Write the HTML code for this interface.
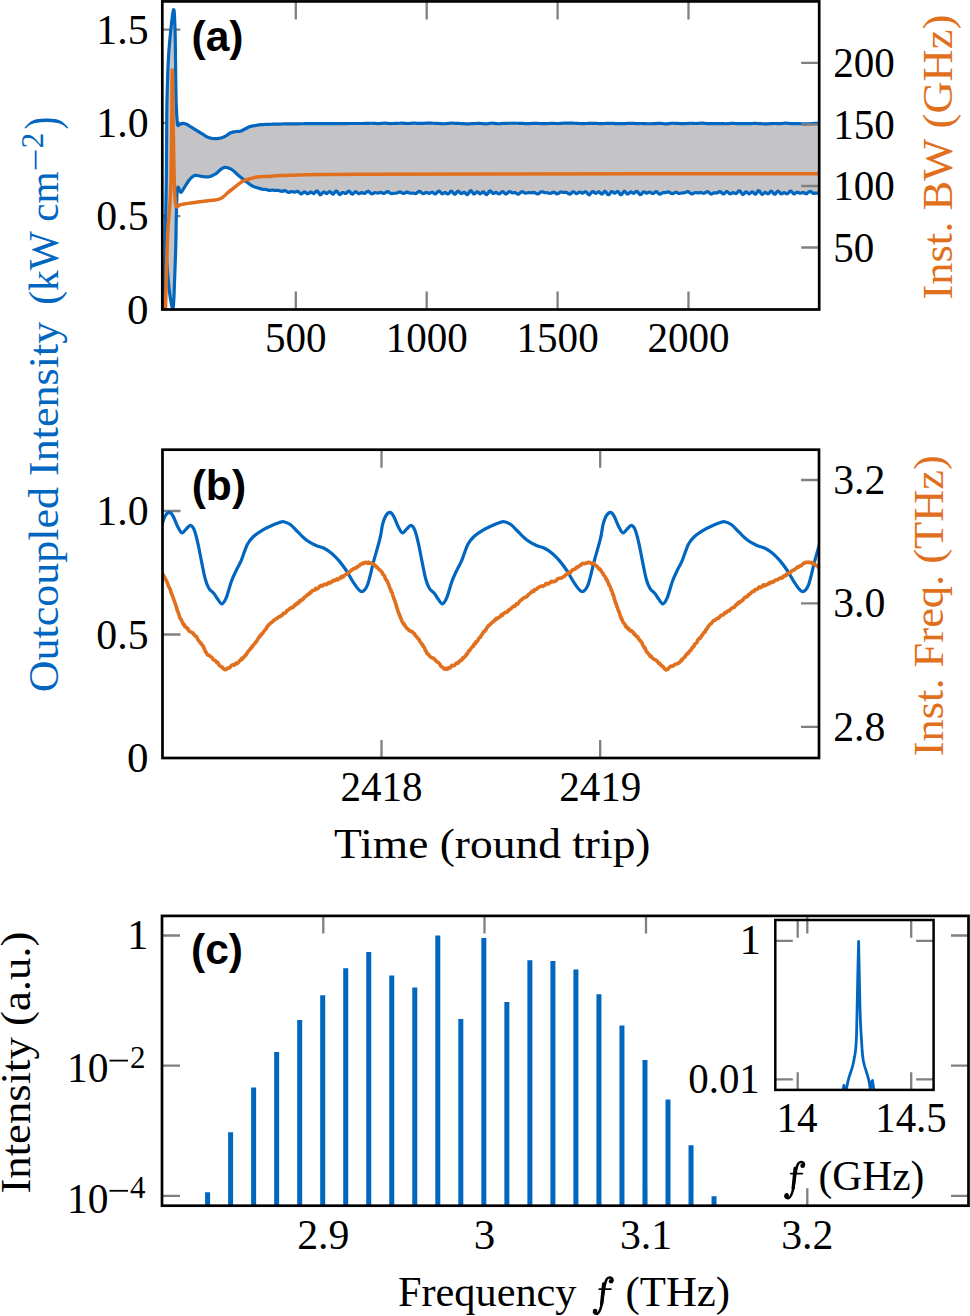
<!DOCTYPE html>
<html><head><meta charset="utf-8"><title>figure</title>
<style>html,body{margin:0;padding:0;background:#fff;width:970px;height:1316px;overflow:hidden;}svg{display:block;font-family:"Liberation Serif",serif;}</style>
</head><body>
<svg width="970" height="1316" viewBox="0 0 970 1316">
<defs>
<clipPath id="ca"><rect x="162.3" y="1.4" width="656.9" height="308.1"/></clipPath>
<clipPath id="cb"><rect x="162.5" y="449.7" width="656.5" height="308.3"/></clipPath>
</defs>
<rect width="970" height="1316" fill="#fff"/>
<path d="M295.8,309.5 V291.5 M295.8,1.4 V19.4 M426.7,309.5 V291.5 M426.7,1.4 V19.4 M557.6,309.5 V291.5 M557.6,1.4 V19.4 M688.5,309.5 V291.5 M688.5,1.4 V19.4 M162.3,216.2 H180.3 M162.3,122.9 H180.3 M162.3,29.6 H180.3" stroke="#808080" stroke-width="2.3" fill="none"/>
<g clip-path="url(#ca)">
<path d="M164.2,309 L164.21,308.48 L164.22,307.91 L164.23,307.31 L164.24,306.66 L164.25,305.97 L164.26,305.25 L164.27,304.49 L164.29,303.7 L164.3,302.87 L164.31,302.02 L164.33,301.13 L164.34,300.22 L164.36,299.28 L164.38,298.31 L164.39,297.32 L164.41,296.31 L164.43,295.27 L164.44,294.22 L164.46,293.15 L164.48,292.06 L164.5,290.96 L164.52,289.84 L164.53,288.71 L164.55,287.57 L164.57,286.43 L164.59,285.27 L164.61,284.11 L164.63,282.94 L164.65,281.77 L164.67,280.6 L164.69,279.43 L164.71,278.26 L164.72,277.09 L164.74,275.93 L164.76,274.77 L164.78,273.62 L164.8,272.48 L164.82,271.35 L164.84,270.23 L164.85,269.12 L164.87,268.03 L164.89,266.96 L164.91,265.9 L164.92,264.86 L164.94,263.84 L164.96,262.84 L164.97,261.87 L164.99,260.92 L165,260 L165.02,258.89 L165.03,257.8 L165.05,256.71 L165.07,255.64 L165.08,254.57 L165.1,253.51 L165.12,252.46 L165.13,251.42 L165.15,250.39 L165.16,249.37 L165.18,248.35 L165.19,247.34 L165.21,246.33 L165.22,245.33 L165.24,244.34 L165.25,243.35 L165.26,242.37 L165.28,241.39 L165.29,240.41 L165.31,239.44 L165.32,238.47 L165.33,237.5 L165.35,236.53 L165.36,235.57 L165.38,234.6 L165.39,233.64 L165.4,232.68 L165.42,231.72 L165.43,230.75 L165.45,229.79 L165.46,228.82 L165.48,227.86 L165.49,226.89 L165.51,225.91 L165.52,224.94 L165.54,223.96 L165.55,222.98 L165.57,221.99 L165.58,221 L165.6,220 L165.62,219 L165.63,218 L165.65,217 L165.67,216 L165.69,215 L165.7,214 L165.72,213 L165.74,212 L165.76,211 L165.78,210 L165.8,209 L165.82,208 L165.83,207 L165.85,206 L165.87,205 L165.89,204 L165.91,203 L165.93,202 L165.95,201 L165.97,200 L165.99,199 L166.01,198 L166.03,197 L166.04,196 L166.06,195 L166.08,194 L166.1,193 L166.12,192 L166.13,191 L166.15,190 L166.17,189 L166.18,188 L166.2,187 L166.22,186 L166.23,185 L166.25,184 L166.26,183 L166.27,182 L166.29,181 L166.3,180 L166.31,179 L166.32,178 L166.34,177 L166.35,176 L166.36,175 L166.37,174 L166.38,173 L166.38,172 L166.39,171 L166.4,170 L166.41,169 L166.42,168 L166.42,167 L166.43,166 L166.44,165 L166.44,164 L166.45,163 L166.46,162 L166.46,161 L166.47,160 L166.47,159 L166.48,158 L166.49,157 L166.49,156 L166.5,155 L166.5,154 L166.51,153 L166.52,152 L166.52,151 L166.53,150 L166.53,149 L166.54,148 L166.55,147 L166.55,146 L166.56,145 L166.57,144 L166.58,143 L166.58,142 L166.59,141 L166.6,140 L166.61,139 L166.62,138 L166.62,137 L166.63,136 L166.64,135 L166.65,134.01 L166.65,133.01 L166.66,132.01 L166.66,131.01 L166.67,130.02 L166.68,129.02 L166.68,128.02 L166.69,127.02 L166.69,126.03 L166.7,125.03 L166.7,124.03 L166.71,123.04 L166.72,122.04 L166.72,121.04 L166.73,120.04 L166.74,119.05 L166.75,118.05 L166.75,117.05 L166.76,116.05 L166.77,115.05 L166.78,114.05 L166.79,113.05 L166.8,112.05 L166.81,111.05 L166.83,110.05 L166.84,109.05 L166.85,108.04 L166.87,107.04 L166.88,106.04 L166.9,105.03 L166.92,104.03 L166.94,103.02 L166.96,102.02 L166.98,101.01 L167,100 L167.02,98.99 L167.05,97.97 L167.07,96.94 L167.09,95.91 L167.12,94.87 L167.15,93.83 L167.17,92.79 L167.2,91.74 L167.23,90.68 L167.25,89.63 L167.28,88.57 L167.31,87.51 L167.34,86.45 L167.37,85.38 L167.4,84.32 L167.44,83.26 L167.47,82.2 L167.5,81.14 L167.53,80.09 L167.57,79.03 L167.6,77.98 L167.64,76.93 L167.68,75.89 L167.71,74.85 L167.75,73.82 L167.79,72.79 L167.83,71.77 L167.87,70.75 L167.91,69.75 L167.95,68.75 L167.99,67.75 L168.03,66.77 L168.08,65.8 L168.12,64.84 L168.17,63.89 L168.21,62.94 L168.26,62.01 L168.3,61.1 L168.35,60.19 L168.4,59.3 L168.47,58.13 L168.53,56.96 L168.6,55.81 L168.68,54.67 L168.75,53.55 L168.82,52.43 L168.9,51.33 L168.98,50.24 L169.06,49.16 L169.14,48.09 L169.22,47.04 L169.31,45.99 L169.39,44.96 L169.48,43.94 L169.56,42.93 L169.65,41.93 L169.74,40.95 L169.83,39.98 L169.91,39.01 L170,38.06 L170.09,37.12 L170.18,36.2 L170.27,35.28 L170.36,34.38 L170.45,33.49 L170.54,32.61 L170.63,31.74 L170.72,30.88 L170.81,30.03 L170.9,29.2 L171.04,27.87 L171.19,26.5 L171.34,25.11 L171.5,23.7 L171.65,22.29 L171.81,20.9 L171.97,19.53 L172.13,18.19 L172.3,16.91 L172.45,15.69 L172.61,14.55 L172.77,13.49 L172.92,12.53 L173.06,11.69 L173.2,10.97 L173.34,10.39 L173.47,9.96 L173.59,9.69 L173.7,9.6 L173.8,9.69 L173.9,9.96 L174,10.39 L174.09,10.97 L174.17,11.69 L174.25,12.53 L174.32,13.49 L174.39,14.55 L174.46,15.69 L174.53,16.91 L174.59,18.19 L174.64,19.53 L174.7,20.9 L174.75,22.29 L174.81,23.7 L174.86,25.11 L174.9,26.5 L174.95,27.87 L175,29.2 L175.03,30.03 L175.06,30.88 L175.08,31.74 L175.11,32.61 L175.13,33.49 L175.15,34.38 L175.17,35.28 L175.19,36.2 L175.21,37.12 L175.22,38.06 L175.24,39.01 L175.25,39.98 L175.27,40.95 L175.28,41.93 L175.29,42.93 L175.31,43.94 L175.32,44.96 L175.33,45.99 L175.34,47.04 L175.36,48.09 L175.37,49.16 L175.38,50.24 L175.39,51.33 L175.41,52.43 L175.42,53.55 L175.43,54.67 L175.45,55.81 L175.47,56.96 L175.48,58.13 L175.5,59.3 L175.51,60.2 L175.53,61.12 L175.54,62.06 L175.55,63.02 L175.57,64.01 L175.58,65.01 L175.59,66.03 L175.61,67.06 L175.62,68.11 L175.63,69.17 L175.64,70.24 L175.66,71.32 L175.67,72.41 L175.68,73.51 L175.7,74.61 L175.71,75.71 L175.72,76.82 L175.74,77.93 L175.75,79.05 L175.76,80.16 L175.78,81.26 L175.79,82.37 L175.8,83.47 L175.82,84.56 L175.83,85.64 L175.85,86.72 L175.86,87.78 L175.88,88.83 L175.9,89.87 L175.91,90.89 L175.93,91.9 L175.95,92.89 L175.96,93.86 L175.98,94.81 L176,95.73 L176.02,96.64 L176.04,97.52 L176.06,98.37 L176.08,99.2 L176.1,100 L176.14,101.41 L176.18,102.77 L176.23,104.1 L176.27,105.39 L176.32,106.64 L176.37,107.85 L176.42,109.02 L176.48,110.15 L176.53,111.25 L176.58,112.3 L176.64,113.32 L176.69,114.3 L176.75,115.24 L176.8,116.14 L176.85,117.01 L176.91,117.83 L176.96,118.62 L177.01,119.37 L177.06,120.09 L177.11,120.76 L177.16,121.4 L177.2,122 L177.52,124.7 L177.8,125.35 L178,125.6 L178,125.6 L178.93,124.95 L180.2,124.2 L181.52,123.66 L183,123.4 L184.08,123.47 L185.23,123.73 L186.5,124.2 L187.26,124.59 L188.01,125.05 L188.83,125.59 L189.8,126.24 L191,127 L191.72,127.44 L192.52,127.94 L193.38,128.47 L194.29,129.03 L195.24,129.61 L196.21,130.21 L197.18,130.8 L198.15,131.39 L199.09,131.96 L200,132.5 L200.89,133.04 L201.78,133.59 L202.68,134.16 L203.57,134.72 L204.46,135.28 L205.34,135.8 L206.2,136.3 L207.05,136.76 L207.89,137.16 L208.7,137.5 L209.83,137.88 L210.93,138.16 L211.99,138.35 L213.04,138.48 L214.05,138.55 L215.04,138.59 L216,138.6 L217.1,138.56 L218.17,138.45 L219.21,138.28 L220.2,138.07 L221.13,137.84 L222,137.6 L223.13,137.23 L224.09,136.83 L225,136.35 L226,135.8 L226.87,135.25 L227.76,134.6 L228.67,133.93 L229.62,133.3 L230.6,132.8 L231.65,132.43 L232.76,132.15 L233.88,131.94 L234.98,131.76 L236,131.6 L237.14,131.49 L238.19,131.46 L239.22,131.41 L240.3,131.2 L241.21,130.88 L242.14,130.46 L243.08,129.98 L244.03,129.48 L245,129 L245.96,128.51 L246.93,128 L247.91,127.48 L248.93,127.01 L250,126.6 L250.94,126.33 L251.92,126.1 L252.92,125.9 L253.95,125.73 L254.98,125.56 L256,125.4 L256.87,125.24 L257.56,125.1 L258.26,124.96 L259.14,124.84 L260.39,124.72 L262.2,124.6 L262.89,124.56 L263.6,124.53 L264.34,124.49 L265.1,124.46 L265.9,124.42 L266.73,124.39 L267.6,124.36 L268.51,124.32 L269.45,124.29 L270.44,124.26 L271.48,124.23 L272.56,124.2 L273.7,124.17 L274.89,124.14 L276.13,124.11 L277.43,124.08 L278.79,124.05 L280.21,124.03 L281.7,124 L282.47,123.99 L283.27,123.97 L284.09,123.96 L284.93,123.95 L285.79,123.94 L286.68,123.92 L287.58,123.91 L288.5,123.9 L289.44,123.89 L290.39,123.87 L291.36,123.86 L292.35,123.85 L293.35,123.84 L294.36,123.83 L295.38,123.81 L296.41,123.8 L297.46,123.79 L298.51,123.78 L299.57,123.77 L300.64,123.76 L301.71,123.75 L302.79,123.74 L303.87,123.73 L304.96,123.72 L306.05,123.71 L307.14,123.7 L308.23,123.69 L309.32,123.68 L310.41,123.67 L311.5,123.66 L312.58,123.65 L313.66,123.64 L314.73,123.64 L315.8,123.63 L316.87,123.62 L317.92,123.61 L318.96,123.61 L320,123.6 L320.99,123.59 L322,123.59 L323.03,123.58 L324.08,123.58 L325.15,123.57 L326.23,123.57 L327.33,123.56 L328.44,123.56 L329.55,123.56 L330.68,123.55 L331.81,123.55 L332.95,123.55 L334.09,123.55 L335.23,123.54 L336.37,123.54 L337.51,123.54 L338.65,123.54 L339.78,123.54 L340.9,123.53 L342.02,123.53 L343.12,123.53 L344.22,123.53 L345.3,123.53 L346.37,123.53 L347.42,123.53 L348.45,123.52 L349.46,123.52 L350.45,123.52 L351.41,123.52 L352.35,123.52 L353.26,123.52 L354.15,123.52 L355,123.52 L355.83,123.51 L356.62,123.51 L357.37,123.51 L358.09,123.51 L358.77,123.51 L359.4,123.5 L360,123.5 L362.97,123.48 L364.52,123.46 L365.12,123.44 L365.26,123.42 L365.39,123.4 L366,123.38 L367,123.35 L368,123.32 L369,123.29 L370,123.26 L371,123.25 L372,123.26 L373,123.3 L374,123.37 L375,123.45 L376,123.53 L377,123.59 L378,123.61 L379,123.57 L380,123.5 L381,123.4 L382,123.31 L383,123.23 L384,123.2 L385,123.22 L386,123.27 L387,123.35 L388,123.42 L389,123.49 L390,123.53 L391,123.53 L392,123.52 L393,123.5 L394,123.47 L395,123.44 L396,123.41 L397,123.37 L398,123.32 L399,123.27 L400,123.23 L401,123.2 L402,123.19 L403,123.22 L404,123.28 L405,123.36 L406,123.43 L407,123.48 L408,123.51 L409,123.48 L410,123.42 L411,123.34 L412,123.26 L413,123.2 L414,123.18 L415,123.19 L416,123.24 L417,123.31 L418,123.38 L419,123.43 L420,123.45 L421,123.44 L422,123.4 L423,123.34 L424,123.28 L425,123.23 L426,123.2 L427,123.18 L428,123.18 L429,123.18 L430,123.18 L431,123.2 L432,123.21 L433,123.24 L434,123.27 L435,123.31 L436,123.36 L437,123.4 L438,123.45 L439,123.5 L440,123.57 L441,123.63 L442,123.69 L443,123.73 L444,123.73 L445,123.69 L446,123.6 L447,123.5 L448,123.39 L449,123.3 L450,123.24 L451,123.21 L452,123.21 L453,123.22 L454,123.25 L455,123.28 L456,123.31 L457,123.34 L458,123.39 L459,123.44 L460,123.49 L461,123.54 L462,123.59 L463,123.64 L464,123.69 L465,123.74 L466,123.78 L467,123.8 L468,123.81 L469,123.8 L470,123.76 L471,123.71 L472,123.65 L473,123.6 L474,123.55 L475,123.52 L476,123.48 L477,123.45 L478,123.43 L479,123.42 L480,123.43 L481,123.48 L482,123.56 L483,123.66 L484,123.76 L485,123.82 L486,123.83 L487,123.77 L488,123.65 L489,123.5 L490,123.35 L491,123.23 L492,123.18 L493,123.22 L494,123.32 L495,123.45 L496,123.59 L497,123.7 L498,123.75 L499,123.74 L500,123.68 L501,123.59 L502,123.5 L503,123.41 L504,123.35 L505,123.32 L506,123.29 L507,123.28 L508,123.27 L509,123.26 L510,123.25 L511,123.24 L512,123.23 L513,123.23 L514,123.22 L515,123.23 L516,123.23 L517,123.24 L518,123.26 L519,123.28 L520,123.3 L521,123.33 L522,123.37 L523,123.42 L524,123.5 L525,123.58 L526,123.65 L527,123.71 L528,123.72 L529,123.69 L530,123.61 L531,123.5 L532,123.4 L533,123.32 L534,123.28 L535,123.28 L536,123.33 L537,123.39 L538,123.45 L539,123.52 L540,123.56 L541,123.58 L542,123.6 L543,123.61 L544,123.61 L545,123.61 L546,123.6 L547,123.58 L548,123.54 L549,123.5 L550,123.46 L551,123.43 L552,123.41 L553,123.42 L554,123.45 L555,123.48 L556,123.52 L557,123.54 L558,123.53 L559,123.5 L560,123.44 L561,123.37 L562,123.3 L563,123.24 L564,123.19 L565,123.17 L566,123.16 L567,123.17 L568,123.17 L569,123.18 L570,123.19 L571,123.2 L572,123.21 L573,123.22 L574,123.24 L575,123.26 L576,123.29 L577,123.34 L578,123.41 L579,123.48 L580,123.54 L581,123.6 L582,123.63 L583,123.63 L584,123.6 L585,123.56 L586,123.52 L587,123.48 L588,123.45 L589,123.43 L590,123.41 L591,123.39 L592,123.37 L593,123.37 L594,123.37 L595,123.39 L596,123.42 L597,123.47 L598,123.51 L599,123.54 L600,123.56 L601,123.56 L602,123.55 L603,123.53 L604,123.51 L605,123.49 L606,123.47 L607,123.44 L608,123.42 L609,123.39 L610,123.36 L611,123.35 L612,123.36 L613,123.4 L614,123.46 L615,123.53 L616,123.6 L617,123.67 L618,123.71 L619,123.72 L620,123.72 L621,123.71 L622,123.7 L623,123.67 L624,123.64 L625,123.59 L626,123.53 L627,123.46 L628,123.4 L629,123.35 L630,123.32 L631,123.33 L632,123.37 L633,123.42 L634,123.47 L635,123.52 L636,123.55 L637,123.56 L638,123.55 L639,123.53 L640,123.52 L641,123.51 L642,123.52 L643,123.55 L644,123.59 L645,123.64 L646,123.7 L647,123.74 L648,123.76 L649,123.77 L650,123.76 L651,123.75 L652,123.72 L653,123.69 L654,123.66 L655,123.61 L656,123.54 L657,123.47 L658,123.4 L659,123.36 L660,123.35 L661,123.4 L662,123.49 L663,123.61 L664,123.73 L665,123.81 L666,123.84 L667,123.79 L668,123.69 L669,123.55 L670,123.41 L671,123.3 L672,123.23 L673,123.22 L674,123.24 L675,123.29 L676,123.34 L677,123.4 L678,123.44 L679,123.49 L680,123.54 L681,123.6 L682,123.65 L683,123.68 L684,123.68 L685,123.64 L686,123.56 L687,123.47 L688,123.37 L689,123.3 L690,123.26 L691,123.26 L692,123.31 L693,123.37 L694,123.43 L695,123.48 L696,123.49 L697,123.46 L698,123.4 L699,123.32 L700,123.25 L701,123.19 L702,123.18 L703,123.21 L704,123.28 L705,123.37 L706,123.47 L707,123.56 L708,123.62 L709,123.65 L710,123.68 L711,123.69 L712,123.69 L713,123.69 L714,123.69 L715,123.67 L716,123.64 L717,123.61 L718,123.58 L719,123.56 L720,123.55 L721,123.57 L722,123.62 L723,123.67 L724,123.72 L725,123.76 L726,123.76 L727,123.72 L728,123.65 L729,123.56 L730,123.47 L731,123.4 L732,123.37 L733,123.38 L734,123.42 L735,123.48 L736,123.55 L737,123.6 L738,123.64 L739,123.64 L740,123.64 L741,123.62 L742,123.6 L743,123.58 L744,123.57 L745,123.56 L746,123.56 L747,123.56 L748,123.56 L749,123.56 L750,123.56 L751,123.54 L752,123.52 L753,123.5 L754,123.47 L755,123.46 L756,123.47 L757,123.5 L758,123.54 L759,123.59 L760,123.65 L761,123.7 L762,123.74 L763,123.77 L764,123.79 L765,123.81 L766,123.82 L767,123.82 L768,123.81 L769,123.77 L770,123.71 L771,123.64 L772,123.57 L773,123.51 L774,123.48 L775,123.48 L776,123.51 L777,123.55 L778,123.59 L779,123.62 L780,123.61 L781,123.57 L782,123.48 L783,123.38 L784,123.29 L785,123.22 L786,123.19 L787,123.22 L788,123.3 L789,123.39 L790,123.5 L791,123.58 L792,123.64 L793,123.66 L794,123.65 L795,123.63 L796,123.61 L797,123.6 L798,123.6 L799,123.63 L800,123.68 L801,123.73 L802,123.78 L803,123.82 L804,123.85 L805,123.85 L806,123.84 L807,123.82 L808,123.8 L809,123.76 L810,123.73 L811.03,123.67 L812.1,123.6 L813.18,123.53 L814.21,123.45 L815.16,123.39 L816,123.35 L817.39,123.34 L818.47,123.37 L819.2,123.4 L819.2,192.6 L819.2,192.6 L818.1,193.28 L816.8,193.1 L815.5,193.19 L814.2,193.43 L812.9,193.13 L811.6,192.13 L810.3,191.32 L809,191.69 L807.7,192.95 L806.4,193.78 L805.1,193.44 L803.8,192.67 L802.5,192.58 L801.2,193.13 L799.9,193.27 L798.6,192.63 L797.3,192.18 L796,192.8 L794.7,193.8 L793.4,193.65 L792.1,192.16 L790.8,191 L789.5,191.59 L788.85,192.39 L788.2,193.21 L786.9,193.94 L785.6,193.26 L784.3,192.58 L783,193.09 L781.7,193.9 L780.4,193.4 L779.75,192.62 L779.1,191.82 L777.8,191.16 L776.5,192.45 L775.85,193.37 L775.2,194.11 L773.9,193.96 L773.25,193.13 L772.6,192.19 L771.3,191.14 L770,192.09 L769.35,192.91 L768.7,193.62 L767.4,193.72 L766.1,192.62 L764.8,192.36 L763.5,193.59 L762.2,194.49 L760.9,193.35 L760.25,192.24 L759.6,191.2 L758.3,190.65 L757.65,191.35 L757,192.34 L756.35,193.33 L755.7,194.08 L754.4,193.81 L753.75,193.06 L753.1,192.28 L751.8,191.83 L750.5,192.98 L749.2,193.89 L747.9,193.16 L746.6,191.93 L745.3,192.19 L744.65,192.96 L744,193.8 L742.7,194.52 L741.4,193.13 L740.75,192.08 L740.1,191.16 L738.8,190.91 L737.5,192.41 L736.2,193.64 L734.9,193.32 L733.6,192.52 L732.3,192.76 L731,193.75 L729.7,193.86 L728.4,192.62 L727.1,191.56 L725.8,192.07 L724.5,193.5 L723.2,194 L721.9,192.97 L720.6,191.74 L719.3,191.7 L718,192.56 L716.7,193.06 L715.4,192.84 L714.1,192.76 L712.8,193.4 L711.5,194.06 L710.2,193.68 L708.9,192.42 L707.6,191.56 L706.3,191.92 L705,192.88 L703.7,193.3 L702.4,192.94 L701.1,192.52 L699.8,192.59 L698.5,192.85 L697.2,192.78 L695.9,192.53 L694.6,192.72 L693.3,193.44 L692,193.96 L690.7,193.56 L689.4,192.49 L688.1,191.72 L686.8,191.82 L685.5,192.42 L684.2,192.81 L682.9,192.86 L681.6,192.98 L680.3,193.32 L679,193.42 L677.7,192.93 L676.4,192.27 L675.1,192.27 L673.8,193.05 L672.5,193.74 L671.2,193.48 L669.9,192.51 L668.6,191.88 L667.3,192.08 L666,192.54 L664.7,192.58 L663.4,192.47 L662.1,192.94 L660.8,193.87 L659.5,194.18 L658.2,193.23 L656.9,191.9 L655.6,191.68 L654.3,192.7 L653,193.56 L651.7,193.19 L650.4,192.25 L649.1,192.12 L647.8,192.87 L646.5,193.19 L645.2,192.45 L643.9,191.81 L642.6,192.61 L641.95,193.46 L641.3,194.27 L640,194.74 L638.7,193.27 L638.05,192.31 L637.4,191.52 L636.1,191.44 L634.8,192.72 L633.5,193.36 L632.2,192.58 L630.9,191.83 L629.6,192.57 L628.3,193.94 L627,193.91 L626.35,193.17 L625.7,192.3 L624.4,191.25 L623.1,192.37 L622.45,193.4 L621.8,194.34 L620.5,194.65 L619.85,193.91 L619.2,192.93 L617.9,191.42 L616.6,191.8 L615.3,193.03 L614,193.04 L612.7,191.88 L611.4,191.59 L610.75,192.25 L610.1,193.14 L609.45,194.07 L608.8,194.75 L607.5,194.28 L606.85,193.29 L606.2,192.24 L604.9,191.19 L603.6,192.33 L602.95,193.21 L602.3,193.94 L601,193.87 L599.7,192.45 L598.4,191.74 L597.1,192.55 L595.8,193.36 L594.5,192.74 L593.2,191.53 L591.9,191.71 L591.25,192.53 L590.6,193.49 L589.3,194.84 L588,194.18 L587.35,193.31 L586.7,192.42 L585.4,191.66 L584.1,192.38 L582.8,193.16 L581.5,192.84 L580.2,192.11 L578.9,192.28 L577.6,193.24 L576.3,193.59 L575,192.71 L573.7,191.73 L572.4,192.03 L571.1,193.38 L569.8,194.25 L568.5,193.79 L567.2,192.75 L565.9,192.29 L564.6,192.46 L563.3,192.48 L562,192.09 L560.7,191.97 L559.4,192.66 L558.1,193.61 L556.8,193.79 L555.5,193.03 L554.2,192.24 L552.9,192.29 L551.6,192.97 L550.3,193.43 L549,193.26 L547.7,192.87 L546.4,192.73 L545.1,192.69 L543.8,192.35 L542.5,191.85 L541.2,191.87 L539.9,192.7 L538.6,193.73 L537.3,194.02 L536,193.39 L534.7,192.63 L533.4,192.44 L532.1,192.71 L530.8,192.79 L529.5,192.56 L528.2,192.52 L526.9,192.93 L525.6,193.25 L524.3,192.82 L523,191.94 L521.7,191.7 L520.4,192.62 L519.1,193.83 L517.8,194.09 L516.5,193.34 L515.2,192.64 L513.9,192.7 L512.6,192.91 L511.3,192.45 L510,191.7 L508.7,191.85 L507.4,193.09 L506.1,194.05 L504.8,193.48 L503.5,192.06 L502.2,191.64 L500.9,192.74 L499.6,193.92 L498.3,193.73 L497,192.69 L495.7,192.43 L494.4,193.19 L493.1,193.46 L491.8,192.27 L490.5,190.92 L489.2,191.35 L488.55,192.3 L487.9,193.36 L486.6,194.65 L485.3,193.8 L484.65,192.94 L484,192.15 L482.7,191.93 L481.4,193.16 L480.1,193.84 L478.8,192.89 L477.5,191.78 L476.2,192.28 L474.9,193.76 L473.6,193.96 L472.95,193.2 L472.3,192.22 L471.65,191.29 L471,190.67 L469.7,191.4 L469.05,192.48 L468.4,193.59 L467.1,194.64 L465.8,193.6 L464.5,192.3 L463.2,192.56 L461.9,193.62 L460.6,193.48 L459.3,191.96 L458,191.12 L456.7,192.28 L456.05,193.22 L455.4,194.03 L454.1,194.09 L453.45,193.31 L452.8,192.38 L451.5,191.17 L450.2,191.96 L449.55,192.79 L448.9,193.58 L447.6,194 L446.3,193.09 L445,192.53 L443.7,193.17 L442.4,193.79 L441.1,193.02 L440.45,192.21 L439.8,191.45 L438.5,191.01 L437.2,192.31 L435.9,193.82 L434.6,193.89 L433.3,192.81 L432,192.18 L430.7,192.67 L429.4,193.32 L428.1,193.14 L426.8,192.56 L425.5,192.63 L424.2,193.38 L422.9,193.66 L421.6,192.79 L420.3,191.58 L419,191.35 L417.7,192.29 L416.4,193.34 L415.1,193.57 L413.8,193.25 L412.5,193.09 L411.2,193.23 L409.9,193.1 L408.6,192.52 L407.3,192.09 L406,192.4 L404.7,193.16 L403.4,193.47 L402.1,192.91 L400.8,192.08 L399.5,191.87 L398.2,192.39 L396.9,193.01 L395.6,193.24 L394.3,193.27 L393,193.46 L391.7,193.61 L390.4,193.2 L389.1,192.27 L387.8,191.61 L386.5,191.92 L385.2,192.88 L383.9,193.44 L382.6,193.11 L381.3,192.5 L380,192.44 L378.7,192.87 L377.4,193.05 L376.1,192.76 L374.8,192.67 L373.5,193.28 L372.2,193.94 L370.9,193.56 L369.6,192.17 L368.3,191.18 L367,191.64 L365.7,192.91 L364.4,193.49 L363.1,193.01 L361.8,192.6 L360.5,193.09 L359.2,193.73 L357.9,193.29 L356.6,192.08 L355.3,191.73 L354,192.92 L352.7,194.2 L351.4,193.79 L350.75,192.95 L350.1,192.05 L348.8,191.08 L347.5,191.94 L346.2,193.28 L344.9,193.35 L343.6,192.49 L342.3,192.49 L341,193.77 L339.7,194.56 L338.4,193.39 L337.75,192.35 L337.1,191.4 L335.8,191.02 L335.15,191.73 L334.5,192.68 L333.2,194.16 L331.9,193.59 L331.25,192.76 L330.6,191.94 L329.3,191.54 L328,192.78 L326.7,193.7 L325.4,192.97 L324.1,191.87 L322.8,192.39 L322.15,193.28 L321.5,194.19 L320.2,194.86 L319.55,194.21 L318.9,193.23 L318.25,192.11 L317.6,191.18 L316.3,191.06 L315.65,191.77 L315,192.61 L313.7,193.62 L312.4,193.02 L311.1,192.13 L309.8,192.47 L308.5,193.54 L307.2,193.7 L305.9,192.62 L304.6,191.81 L303.3,192.45 L302,193.64 L300.7,193.79 L299.4,192.62 L298.1,191.46 L296.8,191.41 L295.5,192.02 L294.2,192.2 L292.9,191.77 L291.6,191.55 L290.3,191.97 L289,192.39 L287.7,192.08 L286.4,191.21 L285.1,190.68 L283.8,190.89 L282.5,191.32 L281.2,191.3 L279.9,190.85 L278.6,190.46 L277.3,190.42 L276,190.47 L274.7,190.32 L273.4,190.11 L272.1,190.1 L270.8,190.28 L269.5,190.35 L268.2,190.1 L266.9,189.69 L265.6,189.39 L264.3,189.32 L263,189.35 L262.24,189.18 L261.29,188.94 L260.21,188.65 L259.09,188.33 L258,188 L256.92,187.66 L255.79,187.29 L254.65,186.9 L253.54,186.47 L252.5,186 L251.55,185.48 L250.67,184.93 L249.81,184.33 L248.94,183.69 L248,183 L247.16,182.36 L246.27,181.67 L245.36,180.95 L244.45,180.21 L243.56,179.49 L242.7,178.8 L241.89,178.15 L241.1,177.53 L240.33,176.92 L239.57,176.3 L238.79,175.67 L238,175 L237.17,174.27 L236.32,173.47 L235.46,172.66 L234.6,171.86 L233.78,171.13 L233,170.5 L231.94,169.74 L230.97,169.12 L230.01,168.62 L229,168.2 L227.91,167.81 L226.78,167.49 L225.64,167.33 L224.5,167.4 L223.59,167.69 L222.68,168.15 L221.76,168.72 L220.87,169.36 L220,170 L219.22,170.66 L218.52,171.39 L217.81,172.14 L217,172.89 L216,173.6 L215.13,174.11 L214.14,174.65 L213.07,175.19 L211.96,175.7 L210.84,176.16 L209.74,176.54 L208.7,176.8 L207.55,176.95 L206.42,176.96 L205.31,176.86 L204.21,176.71 L203.11,176.54 L202,176.4 L200.86,176.23 L199.68,175.98 L198.5,175.71 L197.36,175.49 L196.28,175.37 L195.3,175.4 L194.27,175.66 L193.37,176.09 L192.55,176.65 L191.77,177.3 L191,178 L190.25,178.76 L189.54,179.62 L188.86,180.54 L188.19,181.51 L187.5,182.5 L186.91,183.37 L186.32,184.3 L185.73,185.26 L185.14,186.22 L184.57,187.14 L184,188 L183.34,189.07 L182.7,190.22 L182.07,191.26 L181.44,192.01 L180.8,192.3 L180.13,191.54 L179.42,189.84 L178.74,188.1 L178.11,187.19 L177.6,188 L177.51,188.45 L177.43,188.98 L177.35,189.58 L177.28,190.26 L177.21,191 L177.15,191.8 L177.09,192.66 L177.03,193.57 L176.98,194.53 L176.93,195.54 L176.88,196.59 L176.84,197.67 L176.8,198.78 L176.76,199.93 L176.72,201.1 L176.68,202.29 L176.65,203.49 L176.61,204.7 L176.58,205.93 L176.54,207.15 L176.51,208.38 L176.47,209.59 L176.44,210.8 L176.4,212 L176.37,212.87 L176.35,213.76 L176.33,214.65 L176.3,215.57 L176.28,216.49 L176.26,217.43 L176.24,218.37 L176.23,219.33 L176.21,220.3 L176.19,221.27 L176.18,222.26 L176.16,223.25 L176.15,224.25 L176.13,225.26 L176.12,226.28 L176.11,227.3 L176.09,228.33 L176.08,229.36 L176.07,230.39 L176.05,231.43 L176.04,232.47 L176.02,233.52 L176.01,234.56 L175.99,235.61 L175.97,236.66 L175.96,237.71 L175.94,238.76 L175.92,239.8 L175.9,240.85 L175.87,241.89 L175.85,242.93 L175.83,243.97 L175.8,245 L175.77,245.99 L175.74,247 L175.71,248.05 L175.68,249.11 L175.65,250.2 L175.61,251.31 L175.58,252.43 L175.54,253.57 L175.5,254.72 L175.47,255.87 L175.43,257.04 L175.39,258.2 L175.35,259.37 L175.31,260.54 L175.26,261.7 L175.22,262.85 L175.18,263.99 L175.14,265.13 L175.1,266.24 L175.06,267.34 L175.02,268.42 L174.98,269.48 L174.95,270.51 L174.91,271.52 L174.87,272.49 L174.84,273.43 L174.8,274.34 L174.77,275.21 L174.74,276.04 L174.71,276.82 L174.69,277.56 L174.66,278.25 L174.64,278.89 L174.62,279.47 L174.6,280 L174.6,280 L174.57,280.56 L174.54,281.24 L174.51,282.03 L174.47,282.92 L174.44,283.89 L174.4,284.94 L174.36,286.06 L174.31,287.24 L174.27,288.47 L174.22,289.74 L174.18,291.03 L174.13,292.35 L174.07,293.68 L174.02,295 L173.96,296.31 L173.9,297.61 L173.84,298.87 L173.78,300.1 L173.71,301.27 L173.64,302.39 L173.57,303.44 L173.5,304.41 L173.42,305.28 L173.34,306.06 L173.26,306.74 L173.18,307.29 L173.09,307.71 L173,308 L172.83,308.23 L172.65,308.2 L172.45,307.92 L172.24,307.42 L172.02,306.72 L171.79,305.84 L171.56,304.8 L171.32,303.62 L171.08,302.34 L170.84,300.96 L170.6,299.51 L170.36,298.02 L170.13,296.49 L169.91,294.97 L169.7,293.47 L169.5,292 L169.4,291.21 L169.29,290.39 L169.19,289.53 L169.09,288.64 L168.99,287.72 L168.89,286.77 L168.79,285.79 L168.69,284.8 L168.59,283.78 L168.5,282.74 L168.4,281.69 L168.3,280.62 L168.21,279.55 L168.12,278.46 L168.03,277.38 L167.93,276.28 L167.84,275.19 L167.76,274.1 L167.67,273.01 L167.58,271.93 L167.5,270.85 L167.41,269.79 L167.33,268.74 L167.25,267.71 L167.17,266.7 L167.09,265.71 L167.02,264.74 L166.94,263.8 L166.87,262.88 L166.8,262 L166.71,260.81 L166.61,259.62 L166.52,258.42 L166.43,257.22 L166.35,256.02 L166.26,254.83 L166.18,253.65 L166.1,252.49 L166.03,251.34 L165.95,250.22 L165.88,249.12 L165.81,248.06 L165.75,247.03 L165.68,246.04 L165.62,245.1 L165.57,244.2 L165.52,243.35 L165.47,242.55 L165.42,241.82 L165.38,241.14 L165.34,240.54 L165.3,240 Z" fill="#c4c4c6" stroke="none"/>
<path d="M164.2,309 L164.21,308.48 L164.22,307.91 L164.23,307.31 L164.24,306.66 L164.25,305.97 L164.26,305.25 L164.27,304.49 L164.29,303.7 L164.3,302.87 L164.31,302.02 L164.33,301.13 L164.34,300.22 L164.36,299.28 L164.38,298.31 L164.39,297.32 L164.41,296.31 L164.43,295.27 L164.44,294.22 L164.46,293.15 L164.48,292.06 L164.5,290.96 L164.52,289.84 L164.53,288.71 L164.55,287.57 L164.57,286.43 L164.59,285.27 L164.61,284.11 L164.63,282.94 L164.65,281.77 L164.67,280.6 L164.69,279.43 L164.71,278.26 L164.72,277.09 L164.74,275.93 L164.76,274.77 L164.78,273.62 L164.8,272.48 L164.82,271.35 L164.84,270.23 L164.85,269.12 L164.87,268.03 L164.89,266.96 L164.91,265.9 L164.92,264.86 L164.94,263.84 L164.96,262.84 L164.97,261.87 L164.99,260.92 L165,260 L165.02,258.89 L165.03,257.8 L165.05,256.71 L165.07,255.64 L165.08,254.57 L165.1,253.51 L165.12,252.46 L165.13,251.42 L165.15,250.39 L165.16,249.37 L165.18,248.35 L165.19,247.34 L165.21,246.33 L165.22,245.33 L165.24,244.34 L165.25,243.35 L165.26,242.37 L165.28,241.39 L165.29,240.41 L165.31,239.44 L165.32,238.47 L165.33,237.5 L165.35,236.53 L165.36,235.57 L165.38,234.6 L165.39,233.64 L165.4,232.68 L165.42,231.72 L165.43,230.75 L165.45,229.79 L165.46,228.82 L165.48,227.86 L165.49,226.89 L165.51,225.91 L165.52,224.94 L165.54,223.96 L165.55,222.98 L165.57,221.99 L165.58,221 L165.6,220 L165.62,219 L165.63,218 L165.65,217 L165.67,216 L165.69,215 L165.7,214 L165.72,213 L165.74,212 L165.76,211 L165.78,210 L165.8,209 L165.82,208 L165.83,207 L165.85,206 L165.87,205 L165.89,204 L165.91,203 L165.93,202 L165.95,201 L165.97,200 L165.99,199 L166.01,198 L166.03,197 L166.04,196 L166.06,195 L166.08,194 L166.1,193 L166.12,192 L166.13,191 L166.15,190 L166.17,189 L166.18,188 L166.2,187 L166.22,186 L166.23,185 L166.25,184 L166.26,183 L166.27,182 L166.29,181 L166.3,180 L166.31,179 L166.32,178 L166.34,177 L166.35,176 L166.36,175 L166.37,174 L166.38,173 L166.38,172 L166.39,171 L166.4,170 L166.41,169 L166.42,168 L166.42,167 L166.43,166 L166.44,165 L166.44,164 L166.45,163 L166.46,162 L166.46,161 L166.47,160 L166.47,159 L166.48,158 L166.49,157 L166.49,156 L166.5,155 L166.5,154 L166.51,153 L166.52,152 L166.52,151 L166.53,150 L166.53,149 L166.54,148 L166.55,147 L166.55,146 L166.56,145 L166.57,144 L166.58,143 L166.58,142 L166.59,141 L166.6,140 L166.61,139 L166.62,138 L166.62,137 L166.63,136 L166.64,135 L166.65,134.01 L166.65,133.01 L166.66,132.01 L166.66,131.01 L166.67,130.02 L166.68,129.02 L166.68,128.02 L166.69,127.02 L166.69,126.03 L166.7,125.03 L166.7,124.03 L166.71,123.04 L166.72,122.04 L166.72,121.04 L166.73,120.04 L166.74,119.05 L166.75,118.05 L166.75,117.05 L166.76,116.05 L166.77,115.05 L166.78,114.05 L166.79,113.05 L166.8,112.05 L166.81,111.05 L166.83,110.05 L166.84,109.05 L166.85,108.04 L166.87,107.04 L166.88,106.04 L166.9,105.03 L166.92,104.03 L166.94,103.02 L166.96,102.02 L166.98,101.01 L167,100 L167.02,98.99 L167.05,97.97 L167.07,96.94 L167.09,95.91 L167.12,94.87 L167.15,93.83 L167.17,92.79 L167.2,91.74 L167.23,90.68 L167.25,89.63 L167.28,88.57 L167.31,87.51 L167.34,86.45 L167.37,85.38 L167.4,84.32 L167.44,83.26 L167.47,82.2 L167.5,81.14 L167.53,80.09 L167.57,79.03 L167.6,77.98 L167.64,76.93 L167.68,75.89 L167.71,74.85 L167.75,73.82 L167.79,72.79 L167.83,71.77 L167.87,70.75 L167.91,69.75 L167.95,68.75 L167.99,67.75 L168.03,66.77 L168.08,65.8 L168.12,64.84 L168.17,63.89 L168.21,62.94 L168.26,62.01 L168.3,61.1 L168.35,60.19 L168.4,59.3 L168.47,58.13 L168.53,56.96 L168.6,55.81 L168.68,54.67 L168.75,53.55 L168.82,52.43 L168.9,51.33 L168.98,50.24 L169.06,49.16 L169.14,48.09 L169.22,47.04 L169.31,45.99 L169.39,44.96 L169.48,43.94 L169.56,42.93 L169.65,41.93 L169.74,40.95 L169.83,39.98 L169.91,39.01 L170,38.06 L170.09,37.12 L170.18,36.2 L170.27,35.28 L170.36,34.38 L170.45,33.49 L170.54,32.61 L170.63,31.74 L170.72,30.88 L170.81,30.03 L170.9,29.2 L171.04,27.87 L171.19,26.5 L171.34,25.11 L171.5,23.7 L171.65,22.29 L171.81,20.9 L171.97,19.53 L172.13,18.19 L172.3,16.91 L172.45,15.69 L172.61,14.55 L172.77,13.49 L172.92,12.53 L173.06,11.69 L173.2,10.97 L173.34,10.39 L173.47,9.96 L173.59,9.69 L173.7,9.6 L173.8,9.69 L173.9,9.96 L174,10.39 L174.09,10.97 L174.17,11.69 L174.25,12.53 L174.32,13.49 L174.39,14.55 L174.46,15.69 L174.53,16.91 L174.59,18.19 L174.64,19.53 L174.7,20.9 L174.75,22.29 L174.81,23.7 L174.86,25.11 L174.9,26.5 L174.95,27.87 L175,29.2 L175.03,30.03 L175.06,30.88 L175.08,31.74 L175.11,32.61 L175.13,33.49 L175.15,34.38 L175.17,35.28 L175.19,36.2 L175.21,37.12 L175.22,38.06 L175.24,39.01 L175.25,39.98 L175.27,40.95 L175.28,41.93 L175.29,42.93 L175.31,43.94 L175.32,44.96 L175.33,45.99 L175.34,47.04 L175.36,48.09 L175.37,49.16 L175.38,50.24 L175.39,51.33 L175.41,52.43 L175.42,53.55 L175.43,54.67 L175.45,55.81 L175.47,56.96 L175.48,58.13 L175.5,59.3 L175.51,60.2 L175.53,61.12 L175.54,62.06 L175.55,63.02 L175.57,64.01 L175.58,65.01 L175.59,66.03 L175.61,67.06 L175.62,68.11 L175.63,69.17 L175.64,70.24 L175.66,71.32 L175.67,72.41 L175.68,73.51 L175.7,74.61 L175.71,75.71 L175.72,76.82 L175.74,77.93 L175.75,79.05 L175.76,80.16 L175.78,81.26 L175.79,82.37 L175.8,83.47 L175.82,84.56 L175.83,85.64 L175.85,86.72 L175.86,87.78 L175.88,88.83 L175.9,89.87 L175.91,90.89 L175.93,91.9 L175.95,92.89 L175.96,93.86 L175.98,94.81 L176,95.73 L176.02,96.64 L176.04,97.52 L176.06,98.37 L176.08,99.2 L176.1,100 L176.14,101.41 L176.18,102.77 L176.23,104.1 L176.27,105.39 L176.32,106.64 L176.37,107.85 L176.42,109.02 L176.48,110.15 L176.53,111.25 L176.58,112.3 L176.64,113.32 L176.69,114.3 L176.75,115.24 L176.8,116.14 L176.85,117.01 L176.91,117.83 L176.96,118.62 L177.01,119.37 L177.06,120.09 L177.11,120.76 L177.16,121.4 L177.2,122 L177.52,124.7 L177.8,125.35 L178,125.6 L178,125.6 L178.93,124.95 L180.2,124.2 L181.52,123.66 L183,123.4 L184.08,123.47 L185.23,123.73 L186.5,124.2 L187.26,124.59 L188.01,125.05 L188.83,125.59 L189.8,126.24 L191,127 L191.72,127.44 L192.52,127.94 L193.38,128.47 L194.29,129.03 L195.24,129.61 L196.21,130.21 L197.18,130.8 L198.15,131.39 L199.09,131.96 L200,132.5 L200.89,133.04 L201.78,133.59 L202.68,134.16 L203.57,134.72 L204.46,135.28 L205.34,135.8 L206.2,136.3 L207.05,136.76 L207.89,137.16 L208.7,137.5 L209.83,137.88 L210.93,138.16 L211.99,138.35 L213.04,138.48 L214.05,138.55 L215.04,138.59 L216,138.6 L217.1,138.56 L218.17,138.45 L219.21,138.28 L220.2,138.07 L221.13,137.84 L222,137.6 L223.13,137.23 L224.09,136.83 L225,136.35 L226,135.8 L226.87,135.25 L227.76,134.6 L228.67,133.93 L229.62,133.3 L230.6,132.8 L231.65,132.43 L232.76,132.15 L233.88,131.94 L234.98,131.76 L236,131.6 L237.14,131.49 L238.19,131.46 L239.22,131.41 L240.3,131.2 L241.21,130.88 L242.14,130.46 L243.08,129.98 L244.03,129.48 L245,129 L245.96,128.51 L246.93,128 L247.91,127.48 L248.93,127.01 L250,126.6 L250.94,126.33 L251.92,126.1 L252.92,125.9 L253.95,125.73 L254.98,125.56 L256,125.4 L256.87,125.24 L257.56,125.1 L258.26,124.96 L259.14,124.84 L260.39,124.72 L262.2,124.6 L262.89,124.56 L263.6,124.53 L264.34,124.49 L265.1,124.46 L265.9,124.42 L266.73,124.39 L267.6,124.36 L268.51,124.32 L269.45,124.29 L270.44,124.26 L271.48,124.23 L272.56,124.2 L273.7,124.17 L274.89,124.14 L276.13,124.11 L277.43,124.08 L278.79,124.05 L280.21,124.03 L281.7,124 L282.47,123.99 L283.27,123.97 L284.09,123.96 L284.93,123.95 L285.79,123.94 L286.68,123.92 L287.58,123.91 L288.5,123.9 L289.44,123.89 L290.39,123.87 L291.36,123.86 L292.35,123.85 L293.35,123.84 L294.36,123.83 L295.38,123.81 L296.41,123.8 L297.46,123.79 L298.51,123.78 L299.57,123.77 L300.64,123.76 L301.71,123.75 L302.79,123.74 L303.87,123.73 L304.96,123.72 L306.05,123.71 L307.14,123.7 L308.23,123.69 L309.32,123.68 L310.41,123.67 L311.5,123.66 L312.58,123.65 L313.66,123.64 L314.73,123.64 L315.8,123.63 L316.87,123.62 L317.92,123.61 L318.96,123.61 L320,123.6 L320.99,123.59 L322,123.59 L323.03,123.58 L324.08,123.58 L325.15,123.57 L326.23,123.57 L327.33,123.56 L328.44,123.56 L329.55,123.56 L330.68,123.55 L331.81,123.55 L332.95,123.55 L334.09,123.55 L335.23,123.54 L336.37,123.54 L337.51,123.54 L338.65,123.54 L339.78,123.54 L340.9,123.53 L342.02,123.53 L343.12,123.53 L344.22,123.53 L345.3,123.53 L346.37,123.53 L347.42,123.53 L348.45,123.52 L349.46,123.52 L350.45,123.52 L351.41,123.52 L352.35,123.52 L353.26,123.52 L354.15,123.52 L355,123.52 L355.83,123.51 L356.62,123.51 L357.37,123.51 L358.09,123.51 L358.77,123.51 L359.4,123.5 L360,123.5 L362.97,123.48 L364.52,123.46 L365.12,123.44 L365.26,123.42 L365.39,123.4 L366,123.38 L367,123.35 L368,123.32 L369,123.29 L370,123.26 L371,123.25 L372,123.26 L373,123.3 L374,123.37 L375,123.45 L376,123.53 L377,123.59 L378,123.61 L379,123.57 L380,123.5 L381,123.4 L382,123.31 L383,123.23 L384,123.2 L385,123.22 L386,123.27 L387,123.35 L388,123.42 L389,123.49 L390,123.53 L391,123.53 L392,123.52 L393,123.5 L394,123.47 L395,123.44 L396,123.41 L397,123.37 L398,123.32 L399,123.27 L400,123.23 L401,123.2 L402,123.19 L403,123.22 L404,123.28 L405,123.36 L406,123.43 L407,123.48 L408,123.51 L409,123.48 L410,123.42 L411,123.34 L412,123.26 L413,123.2 L414,123.18 L415,123.19 L416,123.24 L417,123.31 L418,123.38 L419,123.43 L420,123.45 L421,123.44 L422,123.4 L423,123.34 L424,123.28 L425,123.23 L426,123.2 L427,123.18 L428,123.18 L429,123.18 L430,123.18 L431,123.2 L432,123.21 L433,123.24 L434,123.27 L435,123.31 L436,123.36 L437,123.4 L438,123.45 L439,123.5 L440,123.57 L441,123.63 L442,123.69 L443,123.73 L444,123.73 L445,123.69 L446,123.6 L447,123.5 L448,123.39 L449,123.3 L450,123.24 L451,123.21 L452,123.21 L453,123.22 L454,123.25 L455,123.28 L456,123.31 L457,123.34 L458,123.39 L459,123.44 L460,123.49 L461,123.54 L462,123.59 L463,123.64 L464,123.69 L465,123.74 L466,123.78 L467,123.8 L468,123.81 L469,123.8 L470,123.76 L471,123.71 L472,123.65 L473,123.6 L474,123.55 L475,123.52 L476,123.48 L477,123.45 L478,123.43 L479,123.42 L480,123.43 L481,123.48 L482,123.56 L483,123.66 L484,123.76 L485,123.82 L486,123.83 L487,123.77 L488,123.65 L489,123.5 L490,123.35 L491,123.23 L492,123.18 L493,123.22 L494,123.32 L495,123.45 L496,123.59 L497,123.7 L498,123.75 L499,123.74 L500,123.68 L501,123.59 L502,123.5 L503,123.41 L504,123.35 L505,123.32 L506,123.29 L507,123.28 L508,123.27 L509,123.26 L510,123.25 L511,123.24 L512,123.23 L513,123.23 L514,123.22 L515,123.23 L516,123.23 L517,123.24 L518,123.26 L519,123.28 L520,123.3 L521,123.33 L522,123.37 L523,123.42 L524,123.5 L525,123.58 L526,123.65 L527,123.71 L528,123.72 L529,123.69 L530,123.61 L531,123.5 L532,123.4 L533,123.32 L534,123.28 L535,123.28 L536,123.33 L537,123.39 L538,123.45 L539,123.52 L540,123.56 L541,123.58 L542,123.6 L543,123.61 L544,123.61 L545,123.61 L546,123.6 L547,123.58 L548,123.54 L549,123.5 L550,123.46 L551,123.43 L552,123.41 L553,123.42 L554,123.45 L555,123.48 L556,123.52 L557,123.54 L558,123.53 L559,123.5 L560,123.44 L561,123.37 L562,123.3 L563,123.24 L564,123.19 L565,123.17 L566,123.16 L567,123.17 L568,123.17 L569,123.18 L570,123.19 L571,123.2 L572,123.21 L573,123.22 L574,123.24 L575,123.26 L576,123.29 L577,123.34 L578,123.41 L579,123.48 L580,123.54 L581,123.6 L582,123.63 L583,123.63 L584,123.6 L585,123.56 L586,123.52 L587,123.48 L588,123.45 L589,123.43 L590,123.41 L591,123.39 L592,123.37 L593,123.37 L594,123.37 L595,123.39 L596,123.42 L597,123.47 L598,123.51 L599,123.54 L600,123.56 L601,123.56 L602,123.55 L603,123.53 L604,123.51 L605,123.49 L606,123.47 L607,123.44 L608,123.42 L609,123.39 L610,123.36 L611,123.35 L612,123.36 L613,123.4 L614,123.46 L615,123.53 L616,123.6 L617,123.67 L618,123.71 L619,123.72 L620,123.72 L621,123.71 L622,123.7 L623,123.67 L624,123.64 L625,123.59 L626,123.53 L627,123.46 L628,123.4 L629,123.35 L630,123.32 L631,123.33 L632,123.37 L633,123.42 L634,123.47 L635,123.52 L636,123.55 L637,123.56 L638,123.55 L639,123.53 L640,123.52 L641,123.51 L642,123.52 L643,123.55 L644,123.59 L645,123.64 L646,123.7 L647,123.74 L648,123.76 L649,123.77 L650,123.76 L651,123.75 L652,123.72 L653,123.69 L654,123.66 L655,123.61 L656,123.54 L657,123.47 L658,123.4 L659,123.36 L660,123.35 L661,123.4 L662,123.49 L663,123.61 L664,123.73 L665,123.81 L666,123.84 L667,123.79 L668,123.69 L669,123.55 L670,123.41 L671,123.3 L672,123.23 L673,123.22 L674,123.24 L675,123.29 L676,123.34 L677,123.4 L678,123.44 L679,123.49 L680,123.54 L681,123.6 L682,123.65 L683,123.68 L684,123.68 L685,123.64 L686,123.56 L687,123.47 L688,123.37 L689,123.3 L690,123.26 L691,123.26 L692,123.31 L693,123.37 L694,123.43 L695,123.48 L696,123.49 L697,123.46 L698,123.4 L699,123.32 L700,123.25 L701,123.19 L702,123.18 L703,123.21 L704,123.28 L705,123.37 L706,123.47 L707,123.56 L708,123.62 L709,123.65 L710,123.68 L711,123.69 L712,123.69 L713,123.69 L714,123.69 L715,123.67 L716,123.64 L717,123.61 L718,123.58 L719,123.56 L720,123.55 L721,123.57 L722,123.62 L723,123.67 L724,123.72 L725,123.76 L726,123.76 L727,123.72 L728,123.65 L729,123.56 L730,123.47 L731,123.4 L732,123.37 L733,123.38 L734,123.42 L735,123.48 L736,123.55 L737,123.6 L738,123.64 L739,123.64 L740,123.64 L741,123.62 L742,123.6 L743,123.58 L744,123.57 L745,123.56 L746,123.56 L747,123.56 L748,123.56 L749,123.56 L750,123.56 L751,123.54 L752,123.52 L753,123.5 L754,123.47 L755,123.46 L756,123.47 L757,123.5 L758,123.54 L759,123.59 L760,123.65 L761,123.7 L762,123.74 L763,123.77 L764,123.79 L765,123.81 L766,123.82 L767,123.82 L768,123.81 L769,123.77 L770,123.71 L771,123.64 L772,123.57 L773,123.51 L774,123.48 L775,123.48 L776,123.51 L777,123.55 L778,123.59 L779,123.62 L780,123.61 L781,123.57 L782,123.48 L783,123.38 L784,123.29 L785,123.22 L786,123.19 L787,123.22 L788,123.3 L789,123.39 L790,123.5 L791,123.58 L792,123.64 L793,123.66 L794,123.65 L795,123.63 L796,123.61 L797,123.6 L798,123.6 L799,123.63 L800,123.68 L801,123.73 L802,123.78 L803,123.82 L804,123.85 L805,123.85 L806,123.84 L807,123.82 L808,123.8 L809,123.76 L810,123.73 L811.03,123.67 L812.1,123.6 L813.18,123.53 L814.21,123.45 L815.16,123.39 L816,123.35 L817.39,123.34 L818.47,123.37 L819.2,123.4" fill="none" stroke="#0066bf" stroke-width="3.2" stroke-linejoin="round"/>
<path d="M165.3,240 L165.34,240.54 L165.38,241.14 L165.42,241.82 L165.47,242.55 L165.52,243.35 L165.57,244.2 L165.62,245.1 L165.68,246.04 L165.75,247.03 L165.81,248.06 L165.88,249.12 L165.95,250.22 L166.03,251.34 L166.1,252.49 L166.18,253.65 L166.26,254.83 L166.35,256.02 L166.43,257.22 L166.52,258.42 L166.61,259.62 L166.71,260.81 L166.8,262 L166.87,262.88 L166.94,263.8 L167.02,264.74 L167.09,265.71 L167.17,266.7 L167.25,267.71 L167.33,268.74 L167.41,269.79 L167.5,270.85 L167.58,271.93 L167.67,273.01 L167.76,274.1 L167.84,275.19 L167.93,276.28 L168.03,277.38 L168.12,278.46 L168.21,279.55 L168.3,280.62 L168.4,281.69 L168.5,282.74 L168.59,283.78 L168.69,284.8 L168.79,285.79 L168.89,286.77 L168.99,287.72 L169.09,288.64 L169.19,289.53 L169.29,290.39 L169.4,291.21 L169.5,292 L169.7,293.47 L169.91,294.97 L170.13,296.49 L170.36,298.02 L170.6,299.51 L170.84,300.96 L171.08,302.34 L171.32,303.62 L171.56,304.8 L171.79,305.84 L172.02,306.72 L172.24,307.42 L172.45,307.92 L172.65,308.2 L172.83,308.23 L173,308 L173.09,307.71 L173.18,307.29 L173.26,306.74 L173.34,306.06 L173.42,305.28 L173.5,304.41 L173.57,303.44 L173.64,302.39 L173.71,301.27 L173.78,300.1 L173.84,298.87 L173.9,297.61 L173.96,296.31 L174.02,295 L174.07,293.68 L174.13,292.35 L174.18,291.03 L174.22,289.74 L174.27,288.47 L174.31,287.24 L174.36,286.06 L174.4,284.94 L174.44,283.89 L174.47,282.92 L174.51,282.03 L174.54,281.24 L174.57,280.56 L174.6,280 L174.6,280 L174.62,279.47 L174.64,278.89 L174.66,278.25 L174.69,277.56 L174.71,276.82 L174.74,276.04 L174.77,275.21 L174.8,274.34 L174.84,273.43 L174.87,272.49 L174.91,271.52 L174.95,270.51 L174.98,269.48 L175.02,268.42 L175.06,267.34 L175.1,266.24 L175.14,265.13 L175.18,263.99 L175.22,262.85 L175.26,261.7 L175.31,260.54 L175.35,259.37 L175.39,258.2 L175.43,257.04 L175.47,255.87 L175.5,254.72 L175.54,253.57 L175.58,252.43 L175.61,251.31 L175.65,250.2 L175.68,249.11 L175.71,248.05 L175.74,247 L175.77,245.99 L175.8,245 L175.83,243.97 L175.85,242.93 L175.87,241.89 L175.9,240.85 L175.92,239.8 L175.94,238.76 L175.96,237.71 L175.97,236.66 L175.99,235.61 L176.01,234.56 L176.02,233.52 L176.04,232.47 L176.05,231.43 L176.07,230.39 L176.08,229.36 L176.09,228.33 L176.11,227.3 L176.12,226.28 L176.13,225.26 L176.15,224.25 L176.16,223.25 L176.18,222.26 L176.19,221.27 L176.21,220.3 L176.23,219.33 L176.24,218.37 L176.26,217.43 L176.28,216.49 L176.3,215.57 L176.33,214.65 L176.35,213.76 L176.37,212.87 L176.4,212 L176.44,210.8 L176.47,209.59 L176.51,208.38 L176.54,207.15 L176.58,205.93 L176.61,204.7 L176.65,203.49 L176.68,202.29 L176.72,201.1 L176.76,199.93 L176.8,198.78 L176.84,197.67 L176.88,196.59 L176.93,195.54 L176.98,194.53 L177.03,193.57 L177.09,192.66 L177.15,191.8 L177.21,191 L177.28,190.26 L177.35,189.58 L177.43,188.98 L177.51,188.45 L177.6,188 L178.11,187.19 L178.74,188.1 L179.42,189.84 L180.13,191.54 L180.8,192.3 L181.44,192.01 L182.07,191.26 L182.7,190.22 L183.34,189.07 L184,188 L184.57,187.14 L185.14,186.22 L185.73,185.26 L186.32,184.3 L186.91,183.37 L187.5,182.5 L188.19,181.51 L188.86,180.54 L189.54,179.62 L190.25,178.76 L191,178 L191.77,177.3 L192.55,176.65 L193.37,176.09 L194.27,175.66 L195.3,175.4 L196.28,175.37 L197.36,175.49 L198.5,175.71 L199.68,175.98 L200.86,176.23 L202,176.4 L203.11,176.54 L204.21,176.71 L205.31,176.86 L206.42,176.96 L207.55,176.95 L208.7,176.8 L209.74,176.54 L210.84,176.16 L211.96,175.7 L213.07,175.19 L214.14,174.65 L215.13,174.11 L216,173.6 L217,172.89 L217.81,172.14 L218.52,171.39 L219.22,170.66 L220,170 L220.87,169.36 L221.76,168.72 L222.68,168.15 L223.59,167.69 L224.5,167.4 L225.64,167.33 L226.78,167.49 L227.91,167.81 L229,168.2 L230.01,168.62 L230.97,169.12 L231.94,169.74 L233,170.5 L233.78,171.13 L234.6,171.86 L235.46,172.66 L236.32,173.47 L237.17,174.27 L238,175 L238.79,175.67 L239.57,176.3 L240.33,176.92 L241.1,177.53 L241.89,178.15 L242.7,178.8 L243.56,179.49 L244.45,180.21 L245.36,180.95 L246.27,181.67 L247.16,182.36 L248,183 L248.94,183.69 L249.81,184.33 L250.67,184.93 L251.55,185.48 L252.5,186 L253.54,186.47 L254.65,186.9 L255.79,187.29 L256.92,187.66 L258,188 L259.09,188.33 L260.21,188.65 L261.29,188.94 L262.24,189.18 L263,189.35 L264.3,189.32 L265.6,189.39 L266.9,189.69 L268.2,190.1 L269.5,190.35 L270.8,190.28 L272.1,190.1 L273.4,190.11 L274.7,190.32 L276,190.47 L277.3,190.42 L278.6,190.46 L279.9,190.85 L281.2,191.3 L282.5,191.32 L283.8,190.89 L285.1,190.68 L286.4,191.21 L287.7,192.08 L289,192.39 L290.3,191.97 L291.6,191.55 L292.9,191.77 L294.2,192.2 L295.5,192.02 L296.8,191.41 L298.1,191.46 L299.4,192.62 L300.7,193.79 L302,193.64 L303.3,192.45 L304.6,191.81 L305.9,192.62 L307.2,193.7 L308.5,193.54 L309.8,192.47 L311.1,192.13 L312.4,193.02 L313.7,193.62 L315,192.61 L315.65,191.77 L316.3,191.06 L317.6,191.18 L318.25,192.11 L318.9,193.23 L319.55,194.21 L320.2,194.86 L321.5,194.19 L322.15,193.28 L322.8,192.39 L324.1,191.87 L325.4,192.97 L326.7,193.7 L328,192.78 L329.3,191.54 L330.6,191.94 L331.25,192.76 L331.9,193.59 L333.2,194.16 L334.5,192.68 L335.15,191.73 L335.8,191.02 L337.1,191.4 L337.75,192.35 L338.4,193.39 L339.7,194.56 L341,193.77 L342.3,192.49 L343.6,192.49 L344.9,193.35 L346.2,193.28 L347.5,191.94 L348.8,191.08 L350.1,192.05 L350.75,192.95 L351.4,193.79 L352.7,194.2 L354,192.92 L355.3,191.73 L356.6,192.08 L357.9,193.29 L359.2,193.73 L360.5,193.09 L361.8,192.6 L363.1,193.01 L364.4,193.49 L365.7,192.91 L367,191.64 L368.3,191.18 L369.6,192.17 L370.9,193.56 L372.2,193.94 L373.5,193.28 L374.8,192.67 L376.1,192.76 L377.4,193.05 L378.7,192.87 L380,192.44 L381.3,192.5 L382.6,193.11 L383.9,193.44 L385.2,192.88 L386.5,191.92 L387.8,191.61 L389.1,192.27 L390.4,193.2 L391.7,193.61 L393,193.46 L394.3,193.27 L395.6,193.24 L396.9,193.01 L398.2,192.39 L399.5,191.87 L400.8,192.08 L402.1,192.91 L403.4,193.47 L404.7,193.16 L406,192.4 L407.3,192.09 L408.6,192.52 L409.9,193.1 L411.2,193.23 L412.5,193.09 L413.8,193.25 L415.1,193.57 L416.4,193.34 L417.7,192.29 L419,191.35 L420.3,191.58 L421.6,192.79 L422.9,193.66 L424.2,193.38 L425.5,192.63 L426.8,192.56 L428.1,193.14 L429.4,193.32 L430.7,192.67 L432,192.18 L433.3,192.81 L434.6,193.89 L435.9,193.82 L437.2,192.31 L438.5,191.01 L439.8,191.45 L440.45,192.21 L441.1,193.02 L442.4,193.79 L443.7,193.17 L445,192.53 L446.3,193.09 L447.6,194 L448.9,193.58 L449.55,192.79 L450.2,191.96 L451.5,191.17 L452.8,192.38 L453.45,193.31 L454.1,194.09 L455.4,194.03 L456.05,193.22 L456.7,192.28 L458,191.12 L459.3,191.96 L460.6,193.48 L461.9,193.62 L463.2,192.56 L464.5,192.3 L465.8,193.6 L467.1,194.64 L468.4,193.59 L469.05,192.48 L469.7,191.4 L471,190.67 L471.65,191.29 L472.3,192.22 L472.95,193.2 L473.6,193.96 L474.9,193.76 L476.2,192.28 L477.5,191.78 L478.8,192.89 L480.1,193.84 L481.4,193.16 L482.7,191.93 L484,192.15 L484.65,192.94 L485.3,193.8 L486.6,194.65 L487.9,193.36 L488.55,192.3 L489.2,191.35 L490.5,190.92 L491.8,192.27 L493.1,193.46 L494.4,193.19 L495.7,192.43 L497,192.69 L498.3,193.73 L499.6,193.92 L500.9,192.74 L502.2,191.64 L503.5,192.06 L504.8,193.48 L506.1,194.05 L507.4,193.09 L508.7,191.85 L510,191.7 L511.3,192.45 L512.6,192.91 L513.9,192.7 L515.2,192.64 L516.5,193.34 L517.8,194.09 L519.1,193.83 L520.4,192.62 L521.7,191.7 L523,191.94 L524.3,192.82 L525.6,193.25 L526.9,192.93 L528.2,192.52 L529.5,192.56 L530.8,192.79 L532.1,192.71 L533.4,192.44 L534.7,192.63 L536,193.39 L537.3,194.02 L538.6,193.73 L539.9,192.7 L541.2,191.87 L542.5,191.85 L543.8,192.35 L545.1,192.69 L546.4,192.73 L547.7,192.87 L549,193.26 L550.3,193.43 L551.6,192.97 L552.9,192.29 L554.2,192.24 L555.5,193.03 L556.8,193.79 L558.1,193.61 L559.4,192.66 L560.7,191.97 L562,192.09 L563.3,192.48 L564.6,192.46 L565.9,192.29 L567.2,192.75 L568.5,193.79 L569.8,194.25 L571.1,193.38 L572.4,192.03 L573.7,191.73 L575,192.71 L576.3,193.59 L577.6,193.24 L578.9,192.28 L580.2,192.11 L581.5,192.84 L582.8,193.16 L584.1,192.38 L585.4,191.66 L586.7,192.42 L587.35,193.31 L588,194.18 L589.3,194.84 L590.6,193.49 L591.25,192.53 L591.9,191.71 L593.2,191.53 L594.5,192.74 L595.8,193.36 L597.1,192.55 L598.4,191.74 L599.7,192.45 L601,193.87 L602.3,193.94 L602.95,193.21 L603.6,192.33 L604.9,191.19 L606.2,192.24 L606.85,193.29 L607.5,194.28 L608.8,194.75 L609.45,194.07 L610.1,193.14 L610.75,192.25 L611.4,191.59 L612.7,191.88 L614,193.04 L615.3,193.03 L616.6,191.8 L617.9,191.42 L619.2,192.93 L619.85,193.91 L620.5,194.65 L621.8,194.34 L622.45,193.4 L623.1,192.37 L624.4,191.25 L625.7,192.3 L626.35,193.17 L627,193.91 L628.3,193.94 L629.6,192.57 L630.9,191.83 L632.2,192.58 L633.5,193.36 L634.8,192.72 L636.1,191.44 L637.4,191.52 L638.05,192.31 L638.7,193.27 L640,194.74 L641.3,194.27 L641.95,193.46 L642.6,192.61 L643.9,191.81 L645.2,192.45 L646.5,193.19 L647.8,192.87 L649.1,192.12 L650.4,192.25 L651.7,193.19 L653,193.56 L654.3,192.7 L655.6,191.68 L656.9,191.9 L658.2,193.23 L659.5,194.18 L660.8,193.87 L662.1,192.94 L663.4,192.47 L664.7,192.58 L666,192.54 L667.3,192.08 L668.6,191.88 L669.9,192.51 L671.2,193.48 L672.5,193.74 L673.8,193.05 L675.1,192.27 L676.4,192.27 L677.7,192.93 L679,193.42 L680.3,193.32 L681.6,192.98 L682.9,192.86 L684.2,192.81 L685.5,192.42 L686.8,191.82 L688.1,191.72 L689.4,192.49 L690.7,193.56 L692,193.96 L693.3,193.44 L694.6,192.72 L695.9,192.53 L697.2,192.78 L698.5,192.85 L699.8,192.59 L701.1,192.52 L702.4,192.94 L703.7,193.3 L705,192.88 L706.3,191.92 L707.6,191.56 L708.9,192.42 L710.2,193.68 L711.5,194.06 L712.8,193.4 L714.1,192.76 L715.4,192.84 L716.7,193.06 L718,192.56 L719.3,191.7 L720.6,191.74 L721.9,192.97 L723.2,194 L724.5,193.5 L725.8,192.07 L727.1,191.56 L728.4,192.62 L729.7,193.86 L731,193.75 L732.3,192.76 L733.6,192.52 L734.9,193.32 L736.2,193.64 L737.5,192.41 L738.8,190.91 L740.1,191.16 L740.75,192.08 L741.4,193.13 L742.7,194.52 L744,193.8 L744.65,192.96 L745.3,192.19 L746.6,191.93 L747.9,193.16 L749.2,193.89 L750.5,192.98 L751.8,191.83 L753.1,192.28 L753.75,193.06 L754.4,193.81 L755.7,194.08 L756.35,193.33 L757,192.34 L757.65,191.35 L758.3,190.65 L759.6,191.2 L760.25,192.24 L760.9,193.35 L762.2,194.49 L763.5,193.59 L764.8,192.36 L766.1,192.62 L767.4,193.72 L768.7,193.62 L769.35,192.91 L770,192.09 L771.3,191.14 L772.6,192.19 L773.25,193.13 L773.9,193.96 L775.2,194.11 L775.85,193.37 L776.5,192.45 L777.8,191.16 L779.1,191.82 L779.75,192.62 L780.4,193.4 L781.7,193.9 L783,193.09 L784.3,192.58 L785.6,193.26 L786.9,193.94 L788.2,193.21 L788.85,192.39 L789.5,191.59 L790.8,191 L792.1,192.16 L793.4,193.65 L794.7,193.8 L796,192.8 L797.3,192.18 L798.6,192.63 L799.9,193.27 L801.2,193.13 L802.5,192.58 L803.8,192.67 L805.1,193.44 L806.4,193.78 L807.7,192.95 L809,191.69 L810.3,191.32 L811.6,192.13 L812.9,193.13 L814.2,193.43 L815.5,193.19 L816.8,193.1 L818.1,193.28 L819.2,192.6" fill="none" stroke="#0066bf" stroke-width="3.2" stroke-linejoin="round"/>
</g>
<path d="M819.2,62.9 H801.2 M819.2,124.5 H801.2 M819.2,186 H801.2 M819.2,247.5 H801.2" stroke="#808080" stroke-width="2.3" fill="none"/>
<g clip-path="url(#ca)">
<path d="M165.5,309 C165.85,296.67 166.93,251.5 167.6,235 C168.27,218.5 168.93,219.17 169.5,210 C170.07,200.83 170.62,195 171,180 C171.38,165 171.58,138.33 171.8,120 C172.02,101.67 172.1,71.67 172.3,70 C172.5,68.33 172.73,94.17 173,110 C173.27,125.83 173.57,150.33 173.9,165 C174.23,179.67 174.6,191.08 175,198 C175.4,204.92 175.47,205.33 176.3,206.5 C177.13,207.67 178.67,205.43 180,205 C181.33,204.57 180.97,204.43 184.3,203.9 C187.63,203.37 195.38,202.42 200,201.8 C204.62,201.18 208.93,200.6 212,200.2 C215.07,199.8 216.52,199.97 218.4,199.4 C220.28,198.83 221.7,197.95 223.3,196.8 C224.9,195.65 226.38,193.87 228,192.5 C229.62,191.13 230.55,190.47 233,188.6 C235.45,186.73 239.87,182.93 242.7,181.3 C245.53,179.67 247.57,179.5 250,178.8 C252.43,178.1 254.3,177.5 257.3,177.1 C260.3,176.7 263.93,176.65 268,176.4 C272.07,176.15 273.03,175.9 281.7,175.6 C290.37,175.3 306.95,174.83 320,174.6 C333.05,174.37 330,174.32 360,174.2 C390,174.08 423.47,173.98 500,173.9 C576.53,173.82 766,173.73 819.2,173.7" fill="none" stroke="#e1701e" stroke-width="3.5" stroke-linejoin="round"/>
</g>
<rect x="162.3" y="1.4" width="656.9" height="308.1" fill="none" stroke="#000" stroke-width="2.7"/>
<path d="M381.5,758 V740 M381.5,449.7 V467.7 M600.2,758 V740 M600.2,449.7 V467.7 M162.5,511 H180.5 M162.5,634.5 H180.5 M819,480 H801 M819,603.3 H801 M819,726.8 H801" stroke="#808080" stroke-width="2.3" fill="none"/>
<g clip-path="url(#cb)">
<path d="M140.7,591.5 C141.72,590.48 144.75,590.33 146.8,585.4 C148.85,580.47 150.88,569.73 153,561.9 C155.12,554.07 158,544.6 159.5,538.4 C161,532.2 161.07,528.42 162,524.7 C162.93,520.98 163.87,518.15 165.1,516.1 C166.33,514.05 168.07,512.4 169.4,512.4 C170.73,512.4 171.77,513.83 173.1,516.1 C174.43,518.37 175.95,523.22 177.4,526 C178.85,528.78 180.35,532.28 181.8,532.8 C183.25,533.32 184.67,530.33 186.1,529.1 C187.53,527.87 189.07,525.3 190.4,525.4 C191.73,525.5 192.85,526.72 194.1,529.7 C195.35,532.68 196.65,537.93 197.9,543.3 C199.15,548.67 200.37,555.92 201.6,561.9 C202.83,567.88 204.07,574.77 205.3,579.2 C206.53,583.63 207.57,586.13 209,588.5 C210.43,590.87 212.47,591.65 213.9,593.4 C215.33,595.15 216.25,597.25 217.6,599 C218.95,600.75 220.55,604.12 222,603.9 C223.45,603.68 224.75,601.4 226.3,597.7 C227.85,594 229.65,586.23 231.3,581.7 C232.95,577.17 234.55,574.02 236.2,570.5 C237.85,566.98 239.35,564.93 241.2,560.6 C243.05,556.27 245.25,548.52 247.3,544.5 C249.35,540.48 251.02,538.87 253.5,536.5 C255.98,534.13 259.32,532.05 262.2,530.3 C265.08,528.55 267.92,527.28 270.8,526 C273.68,524.72 277.33,523.32 279.5,522.6 C281.67,521.88 281.95,521.35 283.8,521.7 C285.65,522.05 288.22,522.95 290.6,524.7 C292.98,526.45 295.42,529.62 298.1,532.2 C300.78,534.78 303.82,538.03 306.7,540.2 C309.58,542.37 312.52,543.87 315.4,545.2 C318.28,546.53 321.32,546.87 324,548.2 C326.68,549.53 329.02,551.13 331.5,553.2 C333.98,555.27 336.43,557.72 338.9,560.6 C341.37,563.48 343.83,566.78 346.3,570.5 C348.77,574.22 351.22,579.4 353.7,582.9 C356.18,586.4 358.93,591.08 361.2,591.5 C363.47,591.92 365.25,590.33 367.3,585.4 C369.35,580.47 371.38,569.73 373.5,561.9 C375.62,554.07 378.5,544.6 380,538.4 C381.5,532.2 381.57,528.42 382.5,524.7 C383.43,520.98 384.37,518.15 385.6,516.1 C386.83,514.05 388.57,512.4 389.9,512.4 C391.23,512.4 392.27,513.83 393.6,516.1 C394.93,518.37 396.45,523.22 397.9,526 C399.35,528.78 400.85,532.28 402.3,532.8 C403.75,533.32 405.17,530.33 406.6,529.1 C408.03,527.87 409.57,525.3 410.9,525.4 C412.23,525.5 413.35,526.72 414.6,529.7 C415.85,532.68 417.15,537.93 418.4,543.3 C419.65,548.67 420.87,555.92 422.1,561.9 C423.33,567.88 424.57,574.77 425.8,579.2 C427.03,583.63 428.07,586.13 429.5,588.5 C430.93,590.87 432.97,591.65 434.4,593.4 C435.83,595.15 436.75,597.25 438.1,599 C439.45,600.75 441.05,604.12 442.5,603.9 C443.95,603.68 445.25,601.4 446.8,597.7 C448.35,594 450.15,586.23 451.8,581.7 C453.45,577.17 455.05,574.02 456.7,570.5 C458.35,566.98 459.85,564.93 461.7,560.6 C463.55,556.27 465.75,548.52 467.8,544.5 C469.85,540.48 471.52,538.87 474,536.5 C476.48,534.13 479.82,532.05 482.7,530.3 C485.58,528.55 488.42,527.28 491.3,526 C494.18,524.72 497.83,523.32 500,522.6 C502.17,521.88 502.45,521.35 504.3,521.7 C506.15,522.05 508.72,522.95 511.1,524.7 C513.48,526.45 515.92,529.62 518.6,532.2 C521.28,534.78 524.32,538.03 527.2,540.2 C530.08,542.37 533.02,543.87 535.9,545.2 C538.78,546.53 541.82,546.87 544.5,548.2 C547.18,549.53 549.52,551.13 552,553.2 C554.48,555.27 556.93,557.72 559.4,560.6 C561.87,563.48 564.33,566.78 566.8,570.5 C569.27,574.22 571.72,579.4 574.2,582.9 C576.68,586.4 579.43,591.08 581.7,591.5 C583.97,591.92 585.75,590.33 587.8,585.4 C589.85,580.47 591.88,569.73 594,561.9 C596.12,554.07 599,544.6 600.5,538.4 C602,532.2 602.07,528.42 603,524.7 C603.93,520.98 604.87,518.15 606.1,516.1 C607.33,514.05 609.07,512.4 610.4,512.4 C611.73,512.4 612.77,513.83 614.1,516.1 C615.43,518.37 616.95,523.22 618.4,526 C619.85,528.78 621.35,532.28 622.8,532.8 C624.25,533.32 625.67,530.33 627.1,529.1 C628.53,527.87 630.07,525.3 631.4,525.4 C632.73,525.5 633.85,526.72 635.1,529.7 C636.35,532.68 637.65,537.93 638.9,543.3 C640.15,548.67 641.37,555.92 642.6,561.9 C643.83,567.88 645.07,574.77 646.3,579.2 C647.53,583.63 648.57,586.13 650,588.5 C651.43,590.87 653.47,591.65 654.9,593.4 C656.33,595.15 657.25,597.25 658.6,599 C659.95,600.75 661.55,604.12 663,603.9 C664.45,603.68 665.75,601.4 667.3,597.7 C668.85,594 670.65,586.23 672.3,581.7 C673.95,577.17 675.55,574.02 677.2,570.5 C678.85,566.98 680.35,564.93 682.2,560.6 C684.05,556.27 686.25,548.52 688.3,544.5 C690.35,540.48 692.02,538.87 694.5,536.5 C696.98,534.13 700.32,532.05 703.2,530.3 C706.08,528.55 708.92,527.28 711.8,526 C714.68,524.72 718.33,523.32 720.5,522.6 C722.67,521.88 722.95,521.35 724.8,521.7 C726.65,522.05 729.22,522.95 731.6,524.7 C733.98,526.45 736.42,529.62 739.1,532.2 C741.78,534.78 744.82,538.03 747.7,540.2 C750.58,542.37 753.52,543.87 756.4,545.2 C759.28,546.53 762.32,546.87 765,548.2 C767.68,549.53 770.02,551.13 772.5,553.2 C774.98,555.27 777.43,557.72 779.9,560.6 C782.37,563.48 784.83,566.78 787.3,570.5 C789.77,574.22 792.22,579.4 794.7,582.9 C797.18,586.4 799.93,591.08 802.2,591.5 C804.47,591.92 806.25,590.33 808.3,585.4 C810.35,580.47 812.38,569.73 814.5,561.9 C816.62,554.07 819.5,544.6 821,538.4 C822.5,532.2 822.57,528.42 823.5,524.7 C824.43,520.98 825.37,518.15 826.6,516.1 C827.83,514.05 829.57,512.4 830.9,512.4 C832.23,512.4 833.27,513.83 834.6,516.1 C835.93,518.37 838.18,524.35 838.9,526" fill="none" stroke="#0066bf" stroke-width="3.2" stroke-linejoin="round"/>
<path d="M143.8,562.83 L144.49,563.22 L145.46,562.19 L146.59,562.79 L147.8,562.32 L148.97,562.28 L150,562.34 L151.05,563.68 L152.02,563.09 L152.95,563.74 L153.9,564.57 L154.9,566.06 L155.57,565.45 L156.27,566.66 L156.98,567.54 L157.7,568.81 L158.42,569.53 L159.13,570.44 L159.83,570.41 L160.5,571.47 L161.15,572.23 L161.77,573.87 L162.38,574.84 L162.99,574.51 L163.59,575.48 L164.18,576.54 L164.79,577.58 L165.4,579.08 L165.82,580.03 L166.24,580.37 L166.66,580.85 L167.09,582.36 L167.51,583.21 L167.94,584.44 L168.36,585.98 L168.78,586.56 L169.2,587.27 L169.61,588.41 L170.01,589.48 L170.4,589.53 L170.75,591.71 L171.1,592.46 L171.44,593.53 L171.77,594.37 L172.1,594.71 L172.43,595.68 L172.76,596.21 L173.08,597.97 L173.4,598.09 L173.72,599.06 L174.05,600.24 L174.37,601.14 L174.7,602.36 L175.03,602.89 L175.37,603.8 L175.7,605.03 L176.04,605.96 L176.38,607.36 L176.72,607.86 L177.06,610.13 L177.39,610.72 L177.72,610.98 L178.05,612.07 L178.37,613.11 L178.69,613.99 L179,614.43 L179.49,616.75 L179.95,618.11 L180.4,618.38 L180.84,619.41 L181.29,619.76 L181.74,620.68 L182.21,621.91 L182.7,622.65 L183.26,624.39 L183.79,624.19 L184.33,624.72 L184.9,626.82 L185.54,626.91 L186.26,627.11 L187.1,628.56 L187.72,628.38 L188.4,629.74 L189.14,631.04 L189.92,631.51 L190.73,631.92 L191.55,631.93 L192.37,632.77 L193.18,633.17 L193.97,634.78 L194.71,635.13 L195.4,636.22 L196.11,636.35 L196.78,637 L197.42,638.71 L198.04,639.81 L198.64,640.47 L199.23,641.26 L199.81,642.16 L200.4,642.94 L200.99,643.07 L201.6,644.43 L202.15,645.05 L202.7,645.46 L203.23,646.4 L203.77,647.73 L204.3,648.66 L204.84,650.27 L205.38,651.6 L205.94,651.75 L206.51,653.36 L207.09,654.27 L207.7,654.98 L208.48,654.95 L209.3,655.51 L210.14,656.23 L211.01,656.85 L211.88,657.5 L212.74,658.76 L213.59,659.79 L214.42,660.34 L215.2,660.47 L216.05,661.53 L216.9,662.59 L217.73,662.36 L218.54,664.07 L219.32,665.26 L220.06,665.83 L220.75,666.48 L221.4,666.67 L222.44,667.23 L223.25,668.96 L224.06,668.8 L225.1,669.65 L225.97,669.73 L226.94,668.47 L227.97,667.93 L229.05,668.1 L230.17,667.09 L231.3,665.61 L232.17,665.08 L233.07,664.66 L233.99,665.32 L234.93,664.68 L235.87,663.17 L236.82,663.62 L237.77,663.22 L238.7,662.04 L239.43,660.97 L240.16,660.64 L240.88,659.35 L241.6,658.47 L242.32,659.18 L243.05,657.94 L243.78,656.96 L244.54,656.73 L245.31,655.11 L246.1,654.86 L246.68,654.11 L247.28,652.47 L247.88,651.79 L248.49,651.08 L249.12,650.21 L249.74,649.92 L250.38,648.61 L251.01,648.02 L251.65,646.76 L252.28,647.09 L252.92,645.42 L253.55,644.75 L254.18,644.13 L254.8,643.81 L255.42,642.28 L256.04,642.23 L256.67,640.79 L257.3,640.02 L257.93,639.2 L258.56,637.63 L259.18,637.45 L259.8,636.26 L260.42,635.19 L261.03,635.59 L261.64,633.87 L262.24,633.55 L262.82,633.18 L263.4,632.18 L264.11,630.91 L264.8,630.29 L265.47,629.44 L266.12,628.89 L266.77,626.99 L267.42,626.81 L268.06,625.51 L268.72,624.74 L269.39,624.69 L270.08,623.54 L270.8,622.89 L271.6,622.45 L272.4,622.01 L273.2,620.69 L274.01,620.36 L274.84,619.63 L275.69,619.08 L276.58,618.78 L277.5,617.81 L278.47,617.27 L279.5,616.47 L280.22,616.65 L280.97,615.75 L281.74,615.47 L282.54,615 L283.36,613.4 L284.2,613.26 L285.05,613.24 L285.91,612.48 L286.77,610.81 L287.64,610.17 L288.5,610.03 L289.37,608.84 L290.22,608.47 L291.07,607.59 L291.9,607.85 L292.72,607.39 L293.54,606.92 L294.36,605.15 L295.18,605.34 L296,604.59 L296.82,603.14 L297.64,603.58 L298.46,603.03 L299.28,601.24 L300.1,601.66 L300.92,600.16 L301.74,599.63 L302.56,599.73 L303.38,598.84 L304.2,597.19 L305.02,596.96 L305.85,596.43 L306.67,595.52 L307.5,594.65 L308.33,594.18 L309.15,594.13 L309.98,592.43 L310.81,592.59 L311.64,591.8 L312.46,590.55 L313.29,590.42 L314.12,590.28 L314.95,589.56 L315.77,588.35 L316.6,589.23 L317.55,588.38 L318.51,588.15 L319.46,586.37 L320.42,586.16 L321.37,585.39 L322.32,586.09 L323.28,584.93 L324.23,584.33 L325.18,584.39 L326.14,584.74 L327.09,584.2 L328.05,582.96 L329,582.37 L329.95,583.1 L330.91,582.17 L331.86,581.96 L332.82,580.64 L333.77,580.19 L334.73,580.74 L335.68,579.93 L336.64,578.99 L337.59,579.86 L338.55,578.96 L339.5,578.75 L340.45,577.19 L341.4,577.83 L342.3,576.14 L343.23,576.78 L344.18,575.58 L345.15,574.79 L346.12,574.48 L347.09,574.4 L348.05,572.77 L348.99,571.93 L349.89,571.9 L350.76,570.88 L351.59,570.12 L352.36,569.68 L353.06,569.04 L353.7,568.85 L355.06,568.15 L355.94,567.59 L356.59,567.88 L357.23,566.8 L358.1,566.6 L358.89,565.62 L359.74,565.3 L360.63,564.21 L361.55,563.96 L362.48,563.07 L363.4,563.68 L364.3,563.08 L365.35,562.3 L366.41,562.6 L367.48,563.27 L368.53,562.09 L369.54,563.29 L370.5,562.9 L371.55,563.27 L372.52,564.15 L373.45,563.96 L374.4,564.74 L375.4,565.78 L376.07,566.8 L376.77,566.5 L377.48,567.96 L378.2,568.55 L378.92,569.26 L379.63,569.75 L380.33,570.52 L381,570.93 L381.65,571.89 L382.27,572.65 L382.88,574.51 L383.49,574.67 L384.09,575.46 L384.68,576.32 L385.29,578.49 L385.9,579.66 L386.32,580.15 L386.74,580.4 L387.16,581.2 L387.59,582.17 L388.01,583.34 L388.44,583.83 L388.86,585.22 L389.28,585.92 L389.7,587.94 L390.11,588.94 L390.51,589.29 L390.9,589.82 L391.25,591.81 L391.6,591.75 L391.94,592.76 L392.27,593.17 L392.6,594.7 L392.93,595.8 L393.26,596.81 L393.58,597.32 L393.9,598.75 L394.22,598.97 L394.55,600.33 L394.87,601.03 L395.2,602.45 L395.53,602.88 L395.87,603.84 L396.2,605.26 L396.54,606.16 L396.88,607.7 L397.22,608.62 L397.56,609.95 L397.89,610.79 L398.22,611.83 L398.55,613.01 L398.87,613.17 L399.19,613.93 L399.5,615.73 L399.99,615.7 L400.45,617.7 L400.9,618.65 L401.34,618.75 L401.79,620.88 L402.24,621.87 L402.71,622.34 L403.2,623.35 L403.76,624.37 L404.29,624.16 L404.83,625.47 L405.4,626.15 L406.04,627.37 L406.76,628.1 L407.6,628.99 L408.22,629.22 L408.9,630.29 L409.64,630.6 L410.42,631.26 L411.23,631.22 L412.05,631.59 L412.87,632.42 L413.68,633.46 L414.47,633.78 L415.21,635.58 L415.9,635.89 L416.61,636.79 L417.28,637.61 L417.92,638.51 L418.54,639.07 L419.14,639.19 L419.73,641.25 L420.31,642.06 L420.9,642.58 L421.49,643.53 L422.1,644.64 L422.65,644.61 L423.2,646.53 L423.73,646.73 L424.27,647.42 L424.8,648.67 L425.34,650.32 L425.88,650.48 L426.44,652.19 L427.01,653.42 L427.59,653.53 L428.2,654.12 L428.98,655.12 L429.8,656.2 L430.64,657.04 L431.51,657.48 L432.38,658.16 L433.24,657.94 L434.09,658.66 L434.92,659.46 L435.7,660.86 L436.55,661.01 L437.4,662.24 L438.23,662.26 L439.04,663.17 L439.82,664.3 L440.56,665.67 L441.25,666.39 L441.9,666.96 L442.94,667.4 L443.75,668.56 L444.56,669 L445.6,669.15 L446.47,668.45 L447.44,669.22 L448.47,667.62 L449.55,668.15 L450.67,667.41 L451.8,665.38 L452.67,665.58 L453.57,665.66 L454.49,665.42 L455.43,664.15 L456.37,663.35 L457.32,662.69 L458.27,663.17 L459.2,661.37 L459.93,661.32 L460.66,660.03 L461.38,659.93 L462.1,659.88 L462.82,657.92 L463.55,658.19 L464.28,656.93 L465.04,656.66 L465.81,655.52 L466.6,653.9 L467.18,654.21 L467.78,652.88 L468.38,651.45 L468.99,650.65 L469.62,650.59 L470.24,649.72 L470.88,648.68 L471.51,647.61 L472.15,647.08 L472.78,646.2 L473.42,646.15 L474.05,644.07 L474.68,644.38 L475.3,643.71 L475.92,641.83 L476.54,642.24 L477.17,641.11 L477.8,640.58 L478.43,638.85 L479.06,638.16 L479.68,637.38 L480.3,637.48 L480.92,636.07 L481.53,634.93 L482.14,634.25 L482.74,633.25 L483.32,632.16 L483.9,631.5 L484.61,631.68 L485.3,629.94 L485.97,630.01 L486.62,628.08 L487.27,627.23 L487.92,626.74 L488.56,625.42 L489.22,624.88 L489.89,624.97 L490.58,624.1 L491.3,623.27 L492.1,622.26 L492.9,622.01 L493.7,621.43 L494.51,620.26 L495.34,619.95 L496.19,618.39 L497.08,618.84 L498,617.8 L498.97,617.6 L500,616.72 L500.72,615.66 L501.47,614.77 L502.24,615.54 L503.04,613.78 L503.86,613.72 L504.7,612.94 L505.55,612.27 L506.41,612.33 L507.27,612.07 L508.14,610.38 L509,610.35 L509.87,609.19 L510.72,608.94 L511.57,608.07 L512.4,607.1 L513.22,606.46 L514.04,605.89 L514.86,606.28 L515.68,605.01 L516.5,603.93 L517.32,604.29 L518.14,603.75 L518.96,602.26 L519.78,601.12 L520.6,600.52 L521.42,599.7 L522.24,599.41 L523.06,598.38 L523.88,597.95 L524.7,597.34 L525.52,597.16 L526.35,596.99 L527.17,596.13 L528,594.97 L528.83,594.32 L529.65,593.83 L530.48,592.97 L531.31,592.27 L532.14,591.23 L532.96,590.94 L533.79,591.38 L534.62,589.54 L535.45,589.55 L536.27,589.2 L537.1,589.04 L538.05,587.53 L539.01,587.1 L539.96,586.58 L540.92,586.36 L541.87,586 L542.82,586.36 L543.78,585.8 L544.73,585.45 L545.68,583.79 L546.64,583.42 L547.59,584.04 L548.55,583.91 L549.5,582.86 L550.45,582.61 L551.41,581.31 L552.36,581.49 L553.32,581.9 L554.27,581.34 L555.23,580.99 L556.18,580.75 L557.14,579.25 L558.09,578.61 L559.05,578.24 L560,578.33 L560.95,578.08 L561.9,577.96 L562.8,577.12 L563.73,576.46 L564.68,576.05 L565.65,574.97 L566.62,574.48 L567.59,573.07 L568.55,573.54 L569.49,572.08 L570.39,572.49 L571.26,571.49 L572.09,570.41 L572.86,569.63 L573.56,569.34 L574.2,569.5 L575.56,568.73 L576.44,567.3 L577.09,566.85 L577.73,567.15 L578.6,566.72 L579.39,565.93 L580.24,565.12 L581.13,565.08 L582.05,563.6 L582.98,563.49 L583.9,563.27 L584.8,563.69 L585.85,562.98 L586.91,563.22 L587.98,562.58 L589.03,562.28 L590.04,562.43 L591,563.69 L592.05,563.59 L593.02,563.36 L593.95,563.4 L594.9,564.73 L595.9,565.76 L596.57,565.96 L597.27,566.37 L597.98,567.71 L598.7,568.88 L599.42,568.64 L600.13,569.19 L600.83,570.5 L601.5,571.48 L602.15,572.72 L602.77,572.84 L603.38,574.6 L603.99,575.4 L604.59,575.97 L605.18,576.5 L605.79,578.69 L606.4,578.82 L606.82,580.37 L607.24,580.32 L607.66,581.17 L608.09,582.88 L608.51,583.1 L608.94,585.02 L609.36,585.29 L609.78,585.8 L610.2,586.83 L610.61,588.11 L611.01,589.47 L611.4,590.87 L611.75,590.58 L612.1,591.88 L612.44,592.54 L612.77,594.63 L613.1,594.34 L613.43,595.16 L613.76,596.14 L614.08,597.61 L614.4,599.34 L614.72,600.29 L615.05,601.03 L615.37,602.39 L615.7,603.25 L616.03,603.31 L616.37,604.08 L616.7,606.21 L617.04,606.93 L617.38,606.87 L617.72,608.82 L618.06,609.39 L618.39,610.36 L618.72,611.26 L619.05,611.94 L619.37,612.59 L619.69,613.86 L620,614.78 L620.49,616.91 L620.95,616.8 L621.4,619.13 L621.84,618.99 L622.29,620.16 L622.74,621.76 L623.21,622.63 L623.7,622.9 L624.26,623.23 L624.79,624.66 L625.33,625.25 L625.9,626.78 L626.54,626.41 L627.26,627.44 L628.1,629.1 L628.72,628.39 L629.4,629.57 L630.14,630.79 L630.92,631.37 L631.73,630.93 L632.55,631.59 L633.37,632.32 L634.18,634.3 L634.97,634 L635.71,635.45 L636.4,636.4 L637.11,636.36 L637.78,637.07 L638.42,638.93 L639.04,639.26 L639.64,639.58 L640.23,641.13 L640.81,641.41 L641.4,642.24 L641.99,642.74 L642.6,644.78 L643.15,645.89 L643.7,646.37 L644.23,647.77 L644.77,647.35 L645.3,648.62 L645.84,649.94 L646.38,651.6 L646.94,652.51 L647.51,652.54 L648.09,653.16 L648.7,654.19 L649.48,655.14 L650.3,656.57 L651.14,656.17 L652.01,657.76 L652.88,658.31 L653.74,659.05 L654.59,659.6 L655.42,659.99 L656.2,660.24 L657.05,661.03 L657.9,661.93 L658.73,663.41 L659.54,663.2 L660.32,664.19 L661.06,665.79 L661.75,665.72 L662.4,666.05 L663.44,667.02 L664.25,668.61 L665.06,668.79 L666.1,669.92 L666.97,669.6 L667.94,669.36 L668.97,667.72 L670.05,666.81 L671.17,666.15 L672.3,666.1 L673.17,665.96 L674.07,665.1 L674.99,664.32 L675.92,664.1 L676.87,663.88 L677.82,663.39 L678.77,662.87 L679.7,662.32 L680.43,661.44 L681.16,659.99 L681.88,660.41 L682.6,658.89 L683.32,658.58 L684.05,657.52 L684.78,657.27 L685.54,655.63 L686.31,654.83 L687.1,653.92 L687.68,653.1 L688.28,653.48 L688.88,652.28 L689.49,651.13 L690.12,650.45 L690.74,650.53 L691.38,648.99 L692.01,647.74 L692.65,647.77 L693.28,646.71 L693.92,646.38 L694.55,644.22 L695.18,643.96 L695.8,643.68 L696.42,642.91 L697.04,642.22 L697.67,640.1 L698.3,639.67 L698.93,638.59 L699.56,637.88 L700.18,638.25 L700.8,636.86 L701.42,636.58 L702.03,634.95 L702.64,634.91 L703.24,633.51 L703.82,632.48 L704.4,632.52 L705.11,631.84 L705.8,629.67 L706.47,629.5 L707.12,628.64 L707.77,627.16 L708.42,626.53 L709.06,625.35 L709.72,624.63 L710.39,623.92 L711.08,623.68 L711.8,623.03 L712.6,621.62 L713.4,620.66 L714.2,620.51 L715.01,620.46 L715.84,619.15 L716.69,618.78 L717.58,618.04 L718.5,618.32 L719.47,617.29 L720.5,615.84 L721.22,615.39 L721.97,615.29 L722.74,614.98 L723.54,614.55 L724.36,613.15 L725.2,612.67 L726.05,612.87 L726.91,611.84 L727.77,611.03 L728.64,610.45 L729.5,610.79 L730.37,609.2 L731.22,608.96 L732.07,608.01 L732.9,607.47 L733.72,607.51 L734.54,607.07 L735.36,605.47 L736.18,604.56 L737,604.69 L737.82,603.23 L738.64,602.26 L739.46,602.93 L740.28,601.54 L741.1,601.47 L741.92,600.18 L742.74,600.23 L743.56,598.93 L744.38,597.84 L745.2,596.97 L746.02,597.14 L746.85,596.62 L747.67,596.37 L748.5,594.49 L749.33,594.63 L750.15,593.6 L750.98,593.16 L751.81,591.98 L752.64,591.56 L753.46,591.31 L754.29,591.32 L755.12,589.51 L755.95,589.53 L756.77,589.46 L757.6,589.2 L758.55,587.5 L759.51,586.88 L760.46,587.63 L761.42,587.22 L762.37,586.06 L763.32,585 L764.28,585.92 L765.23,584.72 L766.18,585.11 L767.14,584.3 L768.09,584.21 L769.05,582.81 L770,583.33 L770.95,582.06 L771.91,581.92 L772.86,582.18 L773.82,581.75 L774.77,580.38 L775.73,580.03 L776.68,579.89 L777.64,579.66 L778.59,579.03 L779.55,578.19 L780.5,577.91 L781.45,578.15 L782.4,577.9 L783.3,576.1 L784.23,576.33 L785.18,576.04 L786.15,574.34 L787.12,574.91 L788.09,573.19 L789.05,573.27 L789.99,572.56 L790.89,572.05 L791.76,570.98 L792.59,570.59 L793.36,570.31 L794.06,569.6 L794.7,569.54 L796.06,568.36 L796.94,567.79 L797.59,566.78 L798.23,567.29 L799.1,566.58 L799.89,565.7 L800.74,565.93 L801.63,565.35 L802.55,564.28 L803.48,563.31 L804.4,563.29 L805.3,562.41 L806.35,562.21 L807.41,562.54 L808.48,562.01 L809.53,562.59 L810.54,562.83 L811.5,562.31 L812.55,563.49 L813.52,563.02 L814.45,564.47 L815.4,565.15 L816.4,565.52 L817.07,565.41 L817.77,566.74 L818.48,567.28 L819.2,568.91 L819.92,568.51 L820.63,570.43 L821.33,571.49 L822,571.95 L822.65,572.92 L823.27,572.83 L823.88,574.87 L824.49,575.03 L825.09,576.65 L825.68,577.56 L826.29,577.48 L826.9,579.53 L827.32,580.54 L827.74,580.07 L828.16,581.37 L828.59,582.87 L829.01,582.89 L829.44,584.94 L829.86,584.96 L830.28,586.74 L830.7,586.71 L831.11,588.24 L831.51,589.85 L831.9,589.76 L832.27,590.79 L832.64,592.17 L833.03,592.96 L833.42,593.63 L833.8,594.96 L834.18,596.04 L834.54,598.29 L834.89,598.94 L835.22,600.25 L835.52,600.06 L835.78,601.79 L836.01,601.47 L836.2,602.65" fill="none" stroke="#e1701e" stroke-width="3.6" stroke-linejoin="round"/>
</g>
<rect x="162.5" y="449.7" width="656.5" height="308.3" fill="none" stroke="#000" stroke-width="2.7"/>
<path d="M323.3,1205.7 V1188.2 M323.3,915.9 V933.4 M484.5,1205.7 V1188.2 M484.5,915.9 V933.4 M646,1205.7 V1188.2 M646,915.9 V933.4 M807.3,1205.7 V1188.2 M807.3,915.9 V933.4 M162,935.5 H180 M968.5,935.5 H951 M162,1065.6 H180 M968.5,1065.6 H951 M162,1195.8 H180 M968.5,1195.8 H951" stroke="#808080" stroke-width="2.3" fill="none"/>
<path d="M207.6,1205.7 V1192.2 M230.62,1205.7 V1132.2 M253.64,1205.7 V1087.6 M276.66,1205.7 V1052.1 M299.68,1205.7 V1019.9 M322.7,1205.7 V995.2 M345.72,1205.7 V968.3 M368.74,1205.7 V951.9 M391.76,1205.7 V975.4 M414.78,1205.7 V987.4 M437.8,1205.7 V935.5 M460.82,1205.7 V1019 M483.84,1205.7 V937.9 M506.86,1205.7 V1002 M529.88,1205.7 V960.2 M552.9,1205.7 V961.1 M575.92,1205.7 V969.5 M598.94,1205.7 V994.2 M621.96,1205.7 V1025.5 M644.98,1205.7 V1060.1 M668,1205.7 V1099.4 M691.02,1205.7 V1145.2 M714.04,1205.7 V1196.2" stroke="#0066bf" stroke-width="5" fill="none"/>
<rect x="162" y="915.9" width="806.5" height="289.8" fill="none" stroke="#000" stroke-width="2.7"/>
<path d="M797.7,1089.9 V1072.2 M797.7,920 V937.8 M911.2,1089.9 V1072.2 M911.2,920 V937.8 M775.3,940.8 H792.8 M933.6,940.8 H916.1 M775.3,1079.4 H792.8 M933.6,1079.4 H916.1" stroke="#808080" stroke-width="2.3" fill="none"/>
<path d="M843.2,1089.5 L843.9,1085.5 L844.8,1089.5 L846.3,1089.5 L846.4,1088.99 L846.54,1088.29 L846.7,1087.46 L846.88,1086.55 L847.06,1085.6 L847.25,1084.66 L847.43,1083.78 L847.6,1083 L847.8,1082.11 L847.99,1081.31 L848.17,1080.55 L848.36,1079.8 L848.57,1079.03 L848.8,1078.2 L849.02,1077.44 L849.27,1076.65 L849.52,1075.84 L849.79,1075.01 L850.06,1074.18 L850.33,1073.34 L850.6,1072.5 L850.87,1071.68 L851.14,1070.88 L851.41,1070.08 L851.69,1069.26 L851.96,1068.41 L852.23,1067.49 L852.5,1066.5 L852.69,1065.75 L852.87,1064.97 L853.06,1064.15 L853.25,1063.3 L853.43,1062.44 L853.61,1061.56 L853.79,1060.67 L853.97,1059.77 L854.14,1058.88 L854.3,1058 L854.44,1057.22 L854.59,1056.46 L854.73,1055.72 L854.86,1054.97 L855,1054.22 L855.13,1053.46 L855.25,1052.66 L855.37,1051.83 L855.49,1050.95 L855.6,1050.01 L855.7,1049 L855.76,1048.31 L855.82,1047.6 L855.88,1046.87 L855.94,1046.12 L855.99,1045.35 L856.04,1044.56 L856.09,1043.76 L856.14,1042.93 L856.19,1042.1 L856.23,1041.25 L856.27,1040.39 L856.31,1039.51 L856.35,1038.63 L856.39,1037.73 L856.43,1036.83 L856.46,1035.92 L856.5,1035 L856.53,1034.25 L856.55,1033.5 L856.58,1032.75 L856.6,1031.99 L856.62,1031.23 L856.64,1030.46 L856.66,1029.68 L856.68,1028.89 L856.69,1028.1 L856.71,1027.3 L856.73,1026.49 L856.74,1025.67 L856.76,1024.83 L856.77,1023.99 L856.79,1023.13 L856.81,1022.26 L856.82,1021.38 L856.84,1020.48 L856.86,1019.57 L856.88,1018.64 L856.9,1017.7 L856.92,1016.98 L856.93,1016.24 L856.95,1015.48 L856.97,1014.72 L856.98,1013.94 L857,1013.14 L857.02,1012.34 L857.04,1011.53 L857.06,1010.71 L857.08,1009.88 L857.09,1009.05 L857.11,1008.21 L857.13,1007.36 L857.15,1006.52 L857.17,1005.67 L857.19,1004.82 L857.21,1003.98 L857.22,1003.13 L857.24,1002.29 L857.26,1001.45 L857.28,1000.61 L857.3,999.78 L857.32,998.96 L857.33,998.15 L857.35,997.34 L857.37,996.55 L857.38,995.77 L857.4,995 L857.42,994.16 L857.43,993.35 L857.45,992.56 L857.47,991.79 L857.48,991.04 L857.49,990.31 L857.51,989.59 L857.52,988.87 L857.53,988.16 L857.55,987.45 L857.56,986.75 L857.57,986.03 L857.59,985.31 L857.6,984.59 L857.62,983.84 L857.63,983.08 L857.65,982.3 L857.66,981.5 L857.68,980.68 L857.7,979.82 L857.71,978.93 L857.73,978.01 L857.75,977.05 L857.78,976.05 L857.8,975 L857.82,974.33 L857.83,973.63 L857.85,972.89 L857.87,972.12 L857.88,971.33 L857.9,970.51 L857.92,969.67 L857.94,968.8 L857.96,967.92 L857.99,967.02 L858.01,966.1 L858.03,965.17 L858.05,964.23 L858.07,963.27 L858.1,962.32 L858.12,961.35 L858.14,960.38 L858.17,959.41 L858.19,958.45 L858.21,957.48 L858.24,956.52 L858.26,955.57 L858.28,954.62 L858.3,953.69 L858.33,952.77 L858.35,951.86 L858.37,950.98 L858.39,950.11 L858.41,949.26 L858.43,948.44 L858.45,947.64 L858.47,946.87 L858.49,946.13 L858.51,945.42 L858.52,944.74 L858.54,944.1 L858.55,943.5 L858.57,942.93 L858.58,942.41 L858.59,941.93 L858.6,941.5 L858.61,941.93 L858.62,942.41 L858.63,942.93 L858.64,943.5 L858.65,944.1 L858.67,944.74 L858.68,945.42 L858.7,946.13 L858.71,946.87 L858.73,947.64 L858.75,948.44 L858.76,949.26 L858.78,950.11 L858.8,950.98 L858.82,951.86 L858.84,952.77 L858.86,953.69 L858.88,954.62 L858.89,955.57 L858.91,956.52 L858.94,957.48 L858.96,958.45 L858.98,959.41 L859,960.38 L859.02,961.35 L859.04,962.32 L859.06,963.27 L859.08,964.23 L859.1,965.17 L859.12,966.1 L859.13,967.02 L859.15,967.92 L859.17,968.8 L859.19,969.67 L859.21,970.51 L859.22,971.33 L859.24,972.12 L859.26,972.89 L859.27,973.63 L859.29,974.33 L859.3,975 L859.32,976.05 L859.34,977.05 L859.36,978.01 L859.38,978.93 L859.4,979.82 L859.41,980.68 L859.43,981.5 L859.44,982.3 L859.46,983.08 L859.47,983.84 L859.49,984.59 L859.5,985.31 L859.51,986.03 L859.53,986.75 L859.54,987.45 L859.55,988.16 L859.57,988.87 L859.58,989.59 L859.6,990.31 L859.61,991.04 L859.63,991.79 L859.64,992.56 L859.66,993.35 L859.68,994.16 L859.7,995 L859.72,995.77 L859.74,996.55 L859.75,997.33 L859.77,998.13 L859.79,998.94 L859.81,999.75 L859.83,1000.56 L859.85,1001.39 L859.86,1002.22 L859.88,1003.05 L859.9,1003.88 L859.92,1004.72 L859.94,1005.56 L859.96,1006.39 L859.98,1007.23 L860,1008.07 L860.03,1008.9 L860.05,1009.73 L860.07,1010.56 L860.09,1011.38 L860.12,1012.2 L860.14,1013.01 L860.17,1013.82 L860.19,1014.61 L860.22,1015.4 L860.24,1016.18 L860.27,1016.94 L860.3,1017.7 L860.33,1018.57 L860.37,1019.43 L860.4,1020.28 L860.44,1021.13 L860.48,1021.96 L860.51,1022.79 L860.55,1023.61 L860.59,1024.42 L860.63,1025.23 L860.67,1026.03 L860.71,1026.83 L860.76,1027.63 L860.8,1028.41 L860.84,1029.2 L860.89,1029.99 L860.93,1030.77 L860.97,1031.55 L861.02,1032.33 L861.07,1033.1 L861.11,1033.88 L861.16,1034.66 L861.2,1035.44 L861.25,1036.22 L861.3,1037 L861.35,1037.86 L861.41,1038.74 L861.46,1039.62 L861.51,1040.51 L861.57,1041.41 L861.62,1042.31 L861.68,1043.21 L861.74,1044.11 L861.8,1045.01 L861.85,1045.9 L861.91,1046.78 L861.97,1047.65 L862.03,1048.51 L862.09,1049.36 L862.15,1050.18 L862.22,1050.99 L862.28,1051.78 L862.34,1052.54 L862.41,1053.28 L862.47,1053.98 L862.53,1054.66 L862.6,1055.3 L862.73,1056.49 L862.87,1057.56 L863,1058.52 L863.14,1059.41 L863.28,1060.22 L863.42,1060.98 L863.57,1061.7 L863.72,1062.4 L863.87,1063.08 L864.03,1063.78 L864.2,1064.5 L864.41,1065.36 L864.63,1066.17 L864.85,1066.93 L865.08,1067.66 L865.31,1068.39 L865.55,1069.11 L865.8,1069.87 L866.05,1070.66 L866.3,1071.5 L866.52,1072.23 L866.74,1072.99 L866.98,1073.76 L867.22,1074.55 L867.47,1075.36 L867.71,1076.17 L867.95,1076.99 L868.18,1077.82 L868.4,1078.65 L868.61,1079.48 L868.8,1080.3 L868.98,1081.16 L869.15,1082.07 L869.32,1083.03 L869.48,1084 L869.63,1084.97 L869.78,1085.92 L869.91,1086.82 L870.03,1087.64 L870.13,1088.38 L870.22,1089.01 L870.3,1089.5 L871.4,1082 L872.5,1080.5 L873.8,1089.5" fill="none" stroke="#0066bf" stroke-width="2.8" stroke-linejoin="round"/>
<rect x="775.3" y="920" width="158.3" height="169.9" fill="none" stroke="#000" stroke-width="2.5"/>
<text x="148.6" y="323.5" text-anchor="end" font-size="43" fill="#000" font-family="'Liberation Serif', serif" >0</text>
<text x="148.6" y="230.2" text-anchor="end" font-size="43" fill="#000" font-family="'Liberation Serif', serif" textLength="52.24" lengthAdjust="spacingAndGlyphs">0.5</text>
<text x="148.6" y="136.9" text-anchor="end" font-size="43" fill="#000" font-family="'Liberation Serif', serif" textLength="52.24" lengthAdjust="spacingAndGlyphs">1.0</text>
<text x="148.6" y="43.6" text-anchor="end" font-size="43" fill="#000" font-family="'Liberation Serif', serif" textLength="52.24" lengthAdjust="spacingAndGlyphs">1.5</text>
<text x="295.8" y="352.4" text-anchor="middle" font-size="43" fill="#000" font-family="'Liberation Serif', serif" textLength="61.6" lengthAdjust="spacingAndGlyphs">500</text>
<text x="426.7" y="352.4" text-anchor="middle" font-size="43" fill="#000" font-family="'Liberation Serif', serif" textLength="82.13" lengthAdjust="spacingAndGlyphs">1000</text>
<text x="557.6" y="352.4" text-anchor="middle" font-size="43" fill="#000" font-family="'Liberation Serif', serif" textLength="82.13" lengthAdjust="spacingAndGlyphs">1500</text>
<text x="688.5" y="352.4" text-anchor="middle" font-size="43" fill="#000" font-family="'Liberation Serif', serif" textLength="82.13" lengthAdjust="spacingAndGlyphs">2000</text>
<text x="833.2" y="77" text-anchor="start" font-size="43" fill="#000" font-family="'Liberation Serif', serif" textLength="61.6" lengthAdjust="spacingAndGlyphs">200</text>
<text x="833.2" y="138.6" text-anchor="start" font-size="43" fill="#000" font-family="'Liberation Serif', serif" textLength="61.6" lengthAdjust="spacingAndGlyphs">150</text>
<text x="833.2" y="200.1" text-anchor="start" font-size="43" fill="#000" font-family="'Liberation Serif', serif" textLength="61.6" lengthAdjust="spacingAndGlyphs">100</text>
<text x="833.2" y="261.6" text-anchor="start" font-size="43" fill="#000" font-family="'Liberation Serif', serif" textLength="41.06" lengthAdjust="spacingAndGlyphs">50</text>
<text x="148.6" y="525.1" text-anchor="end" font-size="43" fill="#000" font-family="'Liberation Serif', serif" textLength="52.24" lengthAdjust="spacingAndGlyphs">1.0</text>
<text x="148.6" y="648.6" text-anchor="end" font-size="43" fill="#000" font-family="'Liberation Serif', serif" textLength="52.24" lengthAdjust="spacingAndGlyphs">0.5</text>
<text x="148.6" y="772.1" text-anchor="end" font-size="43" fill="#000" font-family="'Liberation Serif', serif" >0</text>
<text x="833.2" y="494.1" text-anchor="start" font-size="43" fill="#000" font-family="'Liberation Serif', serif" textLength="52.24" lengthAdjust="spacingAndGlyphs">3.2</text>
<text x="833.2" y="617.4" text-anchor="start" font-size="43" fill="#000" font-family="'Liberation Serif', serif" textLength="52.24" lengthAdjust="spacingAndGlyphs">3.0</text>
<text x="833.2" y="740.9" text-anchor="start" font-size="43" fill="#000" font-family="'Liberation Serif', serif" textLength="52.24" lengthAdjust="spacingAndGlyphs">2.8</text>
<text x="381.5" y="800.7" text-anchor="middle" font-size="43" fill="#000" font-family="'Liberation Serif', serif" textLength="82.13" lengthAdjust="spacingAndGlyphs">2418</text>
<text x="600.2" y="800.7" text-anchor="middle" font-size="43" fill="#000" font-family="'Liberation Serif', serif" textLength="82.13" lengthAdjust="spacingAndGlyphs">2419</text>
<text x="334" y="858.4" text-anchor="start" font-size="43" fill="#000" font-family="'Liberation Serif', serif" textLength="316.5" lengthAdjust="spacingAndGlyphs">Time (round trip)</text>
<text x="148.6" y="948.8" text-anchor="end" font-size="43" fill="#000" font-family="'Liberation Serif', serif" >1</text>
<text x="67" y="1082.3" text-anchor="start" font-size="43" fill="#000" font-family="'Liberation Serif', serif" textLength="41.5" lengthAdjust="spacingAndGlyphs">10</text>
<text x="129.9" y="1067.8" text-anchor="start" font-size="31" fill="#000" font-family="'Liberation Serif', serif" >2</text>
<path d="M109.5,1060.6 H128" stroke="#000" stroke-width="1.8"/>
<text x="67" y="1212.5" text-anchor="start" font-size="43" fill="#000" font-family="'Liberation Serif', serif" textLength="41.5" lengthAdjust="spacingAndGlyphs">10</text>
<text x="129.9" y="1198" text-anchor="start" font-size="31" fill="#000" font-family="'Liberation Serif', serif" >4</text>
<path d="M109.5,1190.8 H128" stroke="#000" stroke-width="1.8"/>
<text x="323.3" y="1248.6" text-anchor="middle" font-size="43" fill="#000" font-family="'Liberation Serif', serif" textLength="52.24" lengthAdjust="spacingAndGlyphs">2.9</text>
<text x="484.5" y="1248.6" text-anchor="middle" font-size="43" fill="#000" font-family="'Liberation Serif', serif" >3</text>
<text x="646" y="1248.6" text-anchor="middle" font-size="43" fill="#000" font-family="'Liberation Serif', serif" textLength="52.24" lengthAdjust="spacingAndGlyphs">3.1</text>
<text x="807.3" y="1248.6" text-anchor="middle" font-size="43" fill="#000" font-family="'Liberation Serif', serif" textLength="52.24" lengthAdjust="spacingAndGlyphs">3.2</text>
<text x="398" y="1306.2" text-anchor="start" font-size="43" fill="#000" font-family="'Liberation Serif', serif" textLength="178.5" lengthAdjust="spacingAndGlyphs">Frequency</text>
<g transform="translate(0,0)" fill="none" stroke="#000" stroke-linecap="round"><path d="M612.6,1280.2 C612.1,1277.1 608.4,1276.5 606.5,1279.5 C604.9,1282.2 603.8,1290 602.7,1298.5 C601.6,1306.6 600.1,1313.8 596.4,1313.8 C595.2,1313.8 594.4,1313.1 593.9,1312.2" stroke-width="2.5"/><path d="M603.6,1284 C603,1290 602.3,1298 601.6,1304" stroke-width="3.3"/><path d="M599.3,1289.2 H610.8" stroke-width="1.8"/><circle cx="611.1" cy="1281.3" r="2.3" fill="#000" stroke="none"/><circle cx="595.1" cy="1311" r="2.3" fill="#000" stroke="none"/></g>
<text x="625.6" y="1306.2" text-anchor="start" font-size="43" fill="#000" font-family="'Liberation Serif', serif" textLength="104.5" lengthAdjust="spacingAndGlyphs">(THz)</text>
<text x="761.1" y="953.7" text-anchor="end" font-size="43" fill="#000" font-family="'Liberation Serif', serif" >1</text>
<text x="759.8" y="1092.6" text-anchor="end" font-size="43" fill="#000" font-family="'Liberation Serif', serif" textLength="71.49" lengthAdjust="spacingAndGlyphs">0.01</text>
<text x="797" y="1131.6" text-anchor="middle" font-size="43" fill="#000" font-family="'Liberation Serif', serif" textLength="41.06" lengthAdjust="spacingAndGlyphs">14</text>
<text x="911" y="1131.6" text-anchor="middle" font-size="43" fill="#000" font-family="'Liberation Serif', serif" textLength="71.49" lengthAdjust="spacingAndGlyphs">14.5</text>
<g transform="translate(191.5,-115.6)" fill="none" stroke="#000" stroke-linecap="round"><path d="M612.6,1280.2 C612.1,1277.1 608.4,1276.5 606.5,1279.5 C604.9,1282.2 603.8,1290 602.7,1298.5 C601.6,1306.6 600.1,1313.8 596.4,1313.8 C595.2,1313.8 594.4,1313.1 593.9,1312.2" stroke-width="2.5"/><path d="M603.6,1284 C603,1290 602.3,1298 601.6,1304" stroke-width="3.3"/><path d="M599.3,1289.2 H610.8" stroke-width="1.8"/><circle cx="611.1" cy="1281.3" r="2.3" fill="#000" stroke="none"/><circle cx="595.1" cy="1311" r="2.3" fill="#000" stroke="none"/></g>
<text x="818.4" y="1190.3" text-anchor="start" font-size="43" fill="#000" font-family="'Liberation Serif', serif" textLength="106" lengthAdjust="spacingAndGlyphs">(GHz)</text>
<text x="191.5" y="50.5" text-anchor="start" font-size="42.6" fill="#000" font-family="'Liberation Sans', sans-serif" font-weight="bold">(a)</text>
<text x="191.7" y="500" text-anchor="start" font-size="42.6" fill="#000" font-family="'Liberation Sans', sans-serif" font-weight="bold">(b)</text>
<text x="191" y="963.7" text-anchor="start" font-size="42.6" fill="#000" font-family="'Liberation Sans', sans-serif" font-weight="bold">(c)</text>
<g transform="translate(58.4,690.7) rotate(-90)"><text x="-1.6" y="0" text-anchor="start" font-size="43" fill="#0066bf" font-family="'Liberation Serif', serif" textLength="370.5" lengthAdjust="spacingAndGlyphs">Outcoupled Intensity</text><text x="385.9" y="0" text-anchor="start" font-size="43" fill="#0066bf" font-family="'Liberation Serif', serif" textLength="133.6" lengthAdjust="spacingAndGlyphs">(kW cm</text><text x="542.4" y="-15.6" text-anchor="start" font-size="31" fill="#0066bf" font-family="'Liberation Serif', serif" >2</text><text x="561.3" y="0" text-anchor="start" font-size="48" fill="#0066bf" font-family="'Liberation Serif', serif" textLength="12.8" lengthAdjust="spacingAndGlyphs">)</text></g>
<path d="M35.7,169.4 V150.5" stroke="#0066bf" stroke-width="1.8"/>
<g transform="translate(951.8,298) rotate(-90)"><text x="-1.6" y="0" text-anchor="start" font-size="43" fill="#e1701e" font-family="'Liberation Serif', serif" textLength="285" lengthAdjust="spacingAndGlyphs">Inst. BW (GHz)</text></g>
<g transform="translate(942.7,754.7) rotate(-90)"><text x="-1.6" y="0" text-anchor="start" font-size="43" fill="#e1701e" font-family="'Liberation Serif', serif" textLength="301.2" lengthAdjust="spacingAndGlyphs">Inst. Freq. (THz)</text></g>
<g transform="translate(30.4,1192) rotate(-90)"><text x="-1.6" y="0" text-anchor="start" font-size="43" fill="#000" font-family="'Liberation Serif', serif" textLength="262" lengthAdjust="spacingAndGlyphs">Intensity (a.u.)</text></g>
</svg>
</body></html>
